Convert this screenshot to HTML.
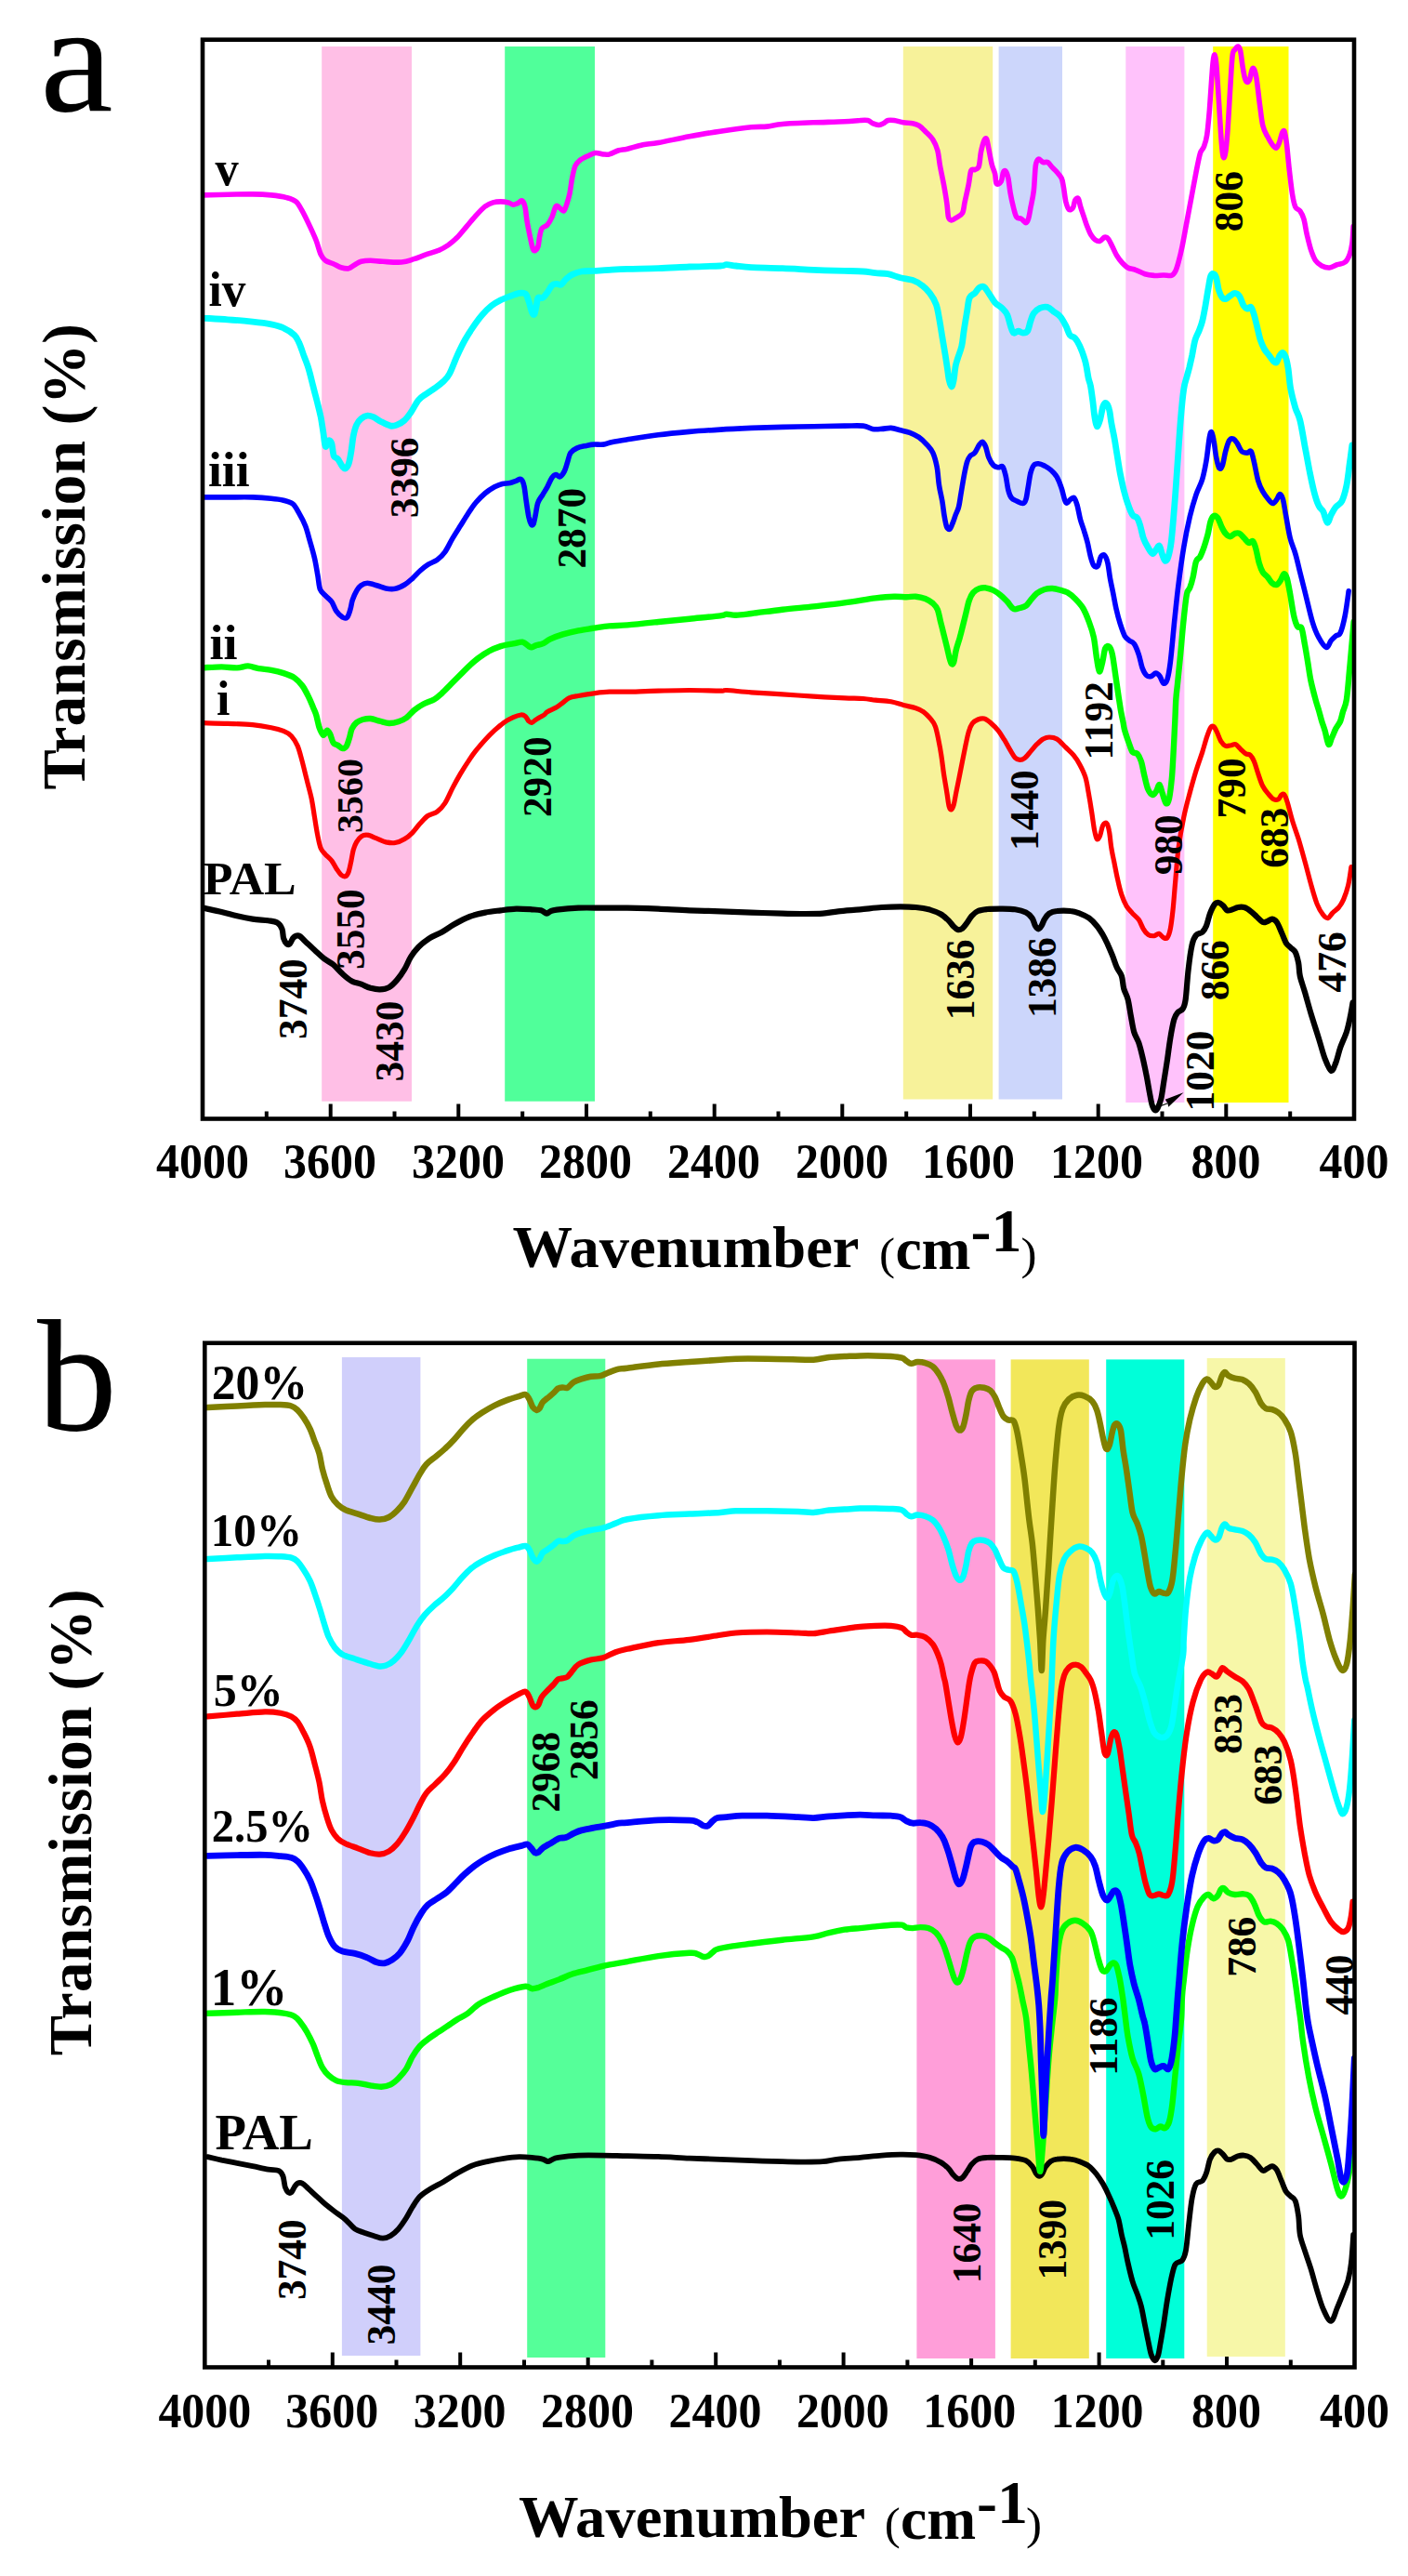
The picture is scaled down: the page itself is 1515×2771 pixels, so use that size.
<!DOCTYPE html>
<html><head><meta charset="utf-8"><title>FTIR spectra</title>
<style>html,body{margin:0;padding:0;background:#fff}svg{display:block}</style></head>
<body>
<svg width="1515" height="2771" viewBox="0 0 1515 2771" font-family='"Liberation Serif","Times New Roman",serif' font-weight="bold" fill="#000">
<rect width="1515" height="2771" fill="#fff"/>
<path d="M1388.2,1203.5V1195.5M1319.3,1203.5V1187.5M1250.5,1203.5V1195.5M1181.7,1203.5V1187.5M1112.8,1203.5V1195.5M1044.0,1203.5V1187.5M975.2,1203.5V1195.5M906.3,1203.5V1187.5M837.5,1203.5V1195.5M768.7,1203.5V1187.5M699.8,1203.5V1195.5M631.0,1203.5V1187.5M562.2,1203.5V1195.5M493.3,1203.5V1187.5M424.5,1203.5V1195.5M355.7,1203.5V1187.5M286.8,1203.5V1195.5" stroke="#000" stroke-width="4" fill="none"/>
<rect x="346.2" y="50.0" width="96.8" height="1134.7" fill="#FFBFE6"/>
<rect x="543.2" y="50.0" width="96.8" height="1134.7" fill="#50FF9A"/>
<rect x="971.8" y="50.0" width="96.4" height="1132.5" fill="#F7F29A"/>
<rect x="1074.6" y="50.0" width="68.4" height="1132.5" fill="#CCD6FB"/>
<rect x="1211.3" y="50.0" width="63.1" height="1136.0" fill="#FFC2FB"/>
<rect x="1305.2" y="50.0" width="81.3" height="1136.0" fill="#FFFF00"/>
<clipPath id="ca"><rect x="218" y="42.7" width="1239" height="1160.8"/></clipPath>
<g clip-path="url(#ca)" fill="none" stroke-linejoin="round" stroke-linecap="round">
<path d="M218.4,976.6C221.7,977.4 232.3,979.5 238.4,981.0C244.5,982.4 249.5,984.0 255.1,985.3C260.6,986.6 266.2,987.8 271.8,988.6C277.3,989.5 284.0,989.6 288.5,990.3C292.9,991.0 296.0,991.1 298.5,992.7C301.0,994.2 302.4,996.5 303.5,999.3C304.6,1002.1 304.3,1006.7 305.1,1009.3C306.0,1012.0 307.4,1014.3 308.5,1015.3C309.6,1016.4 310.7,1016.4 311.8,1015.3C312.9,1014.3 314.0,1010.8 315.2,1009.3C316.3,1007.9 317.3,1007.1 318.5,1006.7C319.7,1006.3 320.8,1006.0 322.5,1007.0C324.2,1008.0 325.8,1010.2 328.5,1012.7C331.2,1015.2 335.2,1019.0 338.5,1022.0C341.9,1025.1 345.2,1028.4 348.5,1031.0C351.9,1033.7 355.2,1034.9 358.6,1037.7C361.9,1040.5 365.2,1044.8 368.6,1047.7C371.9,1050.7 375.2,1053.6 378.6,1055.4C381.9,1057.2 385.3,1057.5 388.6,1058.7C391.9,1060.0 395.3,1061.8 398.6,1062.8C401.9,1063.7 405.3,1064.5 408.6,1064.4C412.0,1064.3 415.6,1063.8 418.6,1062.1C421.7,1060.4 424.2,1057.6 427.0,1054.4C429.8,1051.2 432.8,1046.9 435.3,1042.7C437.8,1038.5 439.5,1033.4 442.0,1029.4C444.5,1025.4 447.0,1022.0 450.3,1018.7C453.7,1015.3 457.9,1012.0 462.0,1009.3C466.2,1006.7 470.9,1005.2 475.4,1002.7C479.8,1000.2 483.7,997.1 488.7,994.3C493.7,991.5 499.9,988.1 505.4,986.0C511.0,983.9 516.6,982.7 522.1,981.6C527.7,980.5 533.2,980.0 538.8,979.3C544.4,978.6 549.9,977.8 555.5,977.6C561.1,977.5 567.7,978.0 572.2,978.3C576.6,978.6 579.5,978.6 582.2,979.3C584.9,980.0 586.5,982.5 588.2,982.6C589.9,982.8 590.4,981.0 592.2,980.3C594.0,979.6 593.9,979.2 598.9,978.6C603.9,978.0 613.9,977.0 622.3,976.6C630.6,976.3 640.2,976.6 649.0,976.6C657.8,976.6 665.1,976.5 675.0,976.6C684.9,976.8 697.3,977.2 708.4,977.6C719.5,978.1 730.6,978.9 741.8,979.3C752.9,979.7 764.0,979.9 775.1,980.3C786.3,980.7 797.4,981.2 808.5,981.6C819.6,982.0 833.0,982.4 841.9,982.6C850.8,982.9 854.7,983.0 861.9,983.0C869.2,983.0 878.6,983.1 885.3,982.6C892.0,982.2 895.3,981.0 902.0,980.3C908.7,979.6 917.6,979.0 925.4,978.3C933.1,977.6 941.5,976.5 948.7,976.0C956.0,975.5 962.6,975.3 968.8,975.3C974.9,975.3 980.2,975.4 985.4,976.0C990.7,976.5 996.0,977.4 1000.5,978.6C1004.9,979.9 1008.8,981.4 1012.1,983.3C1015.5,985.2 1018.3,987.9 1020.5,990.0C1022.7,992.1 1023.8,994.3 1025.5,996.0C1027.2,997.7 1028.8,999.5 1030.5,1000.0C1032.2,1000.4 1033.8,999.9 1035.5,998.7C1037.2,997.4 1038.8,994.9 1040.5,992.7C1042.2,990.4 1043.6,987.4 1045.5,985.3C1047.5,983.2 1049.4,981.2 1052.2,980.0C1055.0,978.7 1058.3,978.4 1062.2,978.0C1066.1,977.6 1070.6,977.6 1075.6,977.6C1080.6,977.7 1087.5,977.6 1092.3,978.3C1097.0,979.0 1100.9,980.1 1103.9,981.6C1107.0,983.2 1108.9,985.3 1110.6,987.6C1112.3,990.0 1112.8,994.0 1114.0,996.0C1115.1,997.9 1116.2,999.3 1117.3,999.3C1118.4,999.3 1119.5,997.8 1120.6,996.0C1121.7,994.2 1122.6,990.9 1124.0,988.6C1125.4,986.4 1126.8,984.1 1129.0,982.6C1131.2,981.2 1133.5,980.4 1137.3,980.0C1141.1,979.5 1147.7,979.5 1151.8,980.0C1155.9,980.4 1158.5,981.4 1161.8,982.6C1165.2,983.9 1168.8,985.4 1171.8,987.6C1174.9,989.9 1177.7,992.9 1180.2,996.0C1182.7,999.0 1184.9,1002.7 1186.9,1006.0C1188.8,1009.3 1190.2,1012.4 1191.9,1016.0C1193.5,1019.6 1195.2,1023.5 1196.9,1027.7C1198.6,1031.9 1200.2,1037.3 1201.9,1041.1C1203.6,1044.8 1205.7,1046.3 1206.9,1050.0C1208.1,1053.7 1208.1,1059.2 1209.2,1063.4C1210.3,1067.5 1212.3,1070.0 1213.6,1075.0C1214.9,1080.0 1215.8,1087.6 1216.9,1093.4C1218.0,1099.2 1218.9,1105.4 1220.2,1110.1C1221.6,1114.8 1223.8,1117.3 1225.3,1121.8C1226.8,1126.2 1227.9,1130.9 1229.3,1136.8C1230.7,1142.6 1232.3,1150.4 1233.6,1156.8C1234.9,1163.2 1235.9,1169.9 1236.9,1175.2C1237.9,1180.5 1238.7,1185.4 1239.6,1188.5C1240.6,1191.7 1241.6,1193.6 1242.6,1194.2C1243.6,1194.8 1244.5,1193.9 1245.6,1191.9C1246.7,1189.8 1248.2,1186.6 1249.3,1181.9C1250.4,1177.1 1251.2,1170.4 1252.3,1163.5C1253.4,1156.5 1254.8,1147.9 1256.0,1140.1C1257.1,1132.3 1258.1,1124.0 1259.3,1116.8C1260.5,1109.5 1262.0,1101.3 1263.3,1096.7C1264.6,1092.2 1265.4,1091.3 1267.0,1089.4C1268.5,1087.4 1271.2,1087.4 1272.7,1085.0C1274.1,1082.7 1274.7,1082.1 1275.7,1075.0C1276.7,1068.0 1277.5,1052.6 1278.7,1042.7C1279.8,1032.9 1281.3,1022.1 1282.7,1016.0C1284.1,1009.9 1285.2,1008.2 1287.0,1006.0C1288.8,1003.8 1291.9,1004.3 1293.7,1002.7C1295.5,1001.0 1296.6,999.3 1298.0,996.0C1299.4,992.7 1300.5,986.5 1302.0,982.6C1303.5,978.7 1305.5,974.6 1307.0,972.6C1308.6,970.7 1309.9,970.7 1311.4,971.0C1312.9,971.2 1314.5,972.9 1316.1,974.3C1317.6,975.7 1318.8,978.6 1320.4,979.3C1321.9,980.0 1323.5,979.2 1325.4,978.6C1327.3,978.1 1329.8,976.4 1332.1,976.0C1334.3,975.5 1336.5,975.3 1338.8,976.0C1341.0,976.6 1343.2,978.3 1345.4,980.0C1347.7,981.6 1349.9,984.0 1352.1,986.0C1354.3,988.0 1356.8,991.1 1358.8,992.0C1360.7,992.8 1362.1,991.5 1363.8,991.0C1365.5,990.4 1367.1,988.5 1368.8,988.6C1370.5,988.8 1372.1,989.6 1373.8,992.0C1375.5,994.3 1377.1,998.9 1378.8,1002.7C1380.5,1006.4 1382.1,1011.6 1383.8,1014.3C1385.5,1017.1 1387.2,1017.7 1388.8,1019.4C1390.5,1021.0 1392.4,1021.6 1393.8,1024.4C1395.2,1027.1 1396.3,1031.8 1397.2,1036.0C1398.0,1040.3 1397.7,1044.9 1398.8,1050.0C1399.9,1055.1 1401.9,1060.0 1403.8,1066.7C1405.8,1073.4 1408.0,1081.7 1410.5,1090.1C1413.0,1098.4 1416.4,1108.7 1418.9,1116.8C1421.4,1124.8 1423.3,1132.6 1425.5,1138.5C1427.8,1144.3 1430.3,1151.0 1432.2,1151.8C1434.2,1152.6 1435.6,1147.6 1437.2,1143.5C1438.9,1139.3 1440.3,1132.3 1442.2,1126.8C1444.2,1121.2 1447.1,1115.6 1448.9,1110.1C1450.7,1104.5 1451.8,1098.7 1452.9,1093.4C1454.0,1088.1 1455.1,1080.9 1455.6,1078.4" stroke="#000000" stroke-width="6.2"/>
<path d="M218.4,777.7C222.8,777.8 236.2,778.0 245.1,778.3C254.0,778.7 264.0,779.0 271.8,779.7C279.6,780.4 286.2,781.6 291.8,782.7C297.4,783.8 301.5,784.9 305.1,786.4C308.8,787.9 311.0,789.0 313.5,791.7C316.0,794.4 318.2,797.8 320.2,802.4C322.1,806.9 323.5,813.0 325.2,819.1C326.8,825.2 328.5,832.4 330.2,839.1C331.8,845.8 333.8,852.5 335.2,859.1C336.6,865.8 337.4,872.5 338.5,879.2C339.6,885.8 340.7,893.6 341.9,899.2C343.0,904.7 343.8,909.2 345.2,912.5C346.6,915.9 348.3,917.0 350.2,919.2C352.2,921.4 354.9,923.4 356.9,925.9C358.8,928.4 360.2,931.7 361.9,934.2C363.6,936.7 365.2,939.5 366.9,940.9C368.6,942.3 370.5,943.1 371.9,942.6C373.3,942.0 374.2,940.4 375.2,937.6C376.2,934.8 377.1,929.8 377.9,925.9C378.7,922.0 379.3,917.5 380.2,914.2C381.2,910.9 382.2,908.3 383.6,905.9C385.0,903.5 386.6,901.1 388.6,899.9C390.5,898.6 392.5,897.8 395.3,898.2C398.1,898.5 401.9,900.6 405.3,901.9C408.6,903.1 412.0,905.1 415.3,905.9C418.6,906.6 422.0,907.1 425.3,906.5C428.7,906.0 432.3,904.3 435.3,902.5C438.4,900.7 440.9,898.6 443.7,895.8C446.5,893.1 449.2,888.9 452.0,885.8C454.8,882.8 457.3,879.6 460.4,877.5C463.4,875.4 467.3,875.4 470.4,873.1C473.4,870.9 475.9,868.4 478.7,864.1C481.5,859.9 484.3,852.7 487.1,847.4C489.8,842.2 492.6,837.2 495.4,832.4C498.2,827.7 501.0,823.2 503.8,819.1C506.5,814.9 509.0,811.3 512.1,807.4C515.2,803.5 518.8,799.3 522.1,795.7C525.5,792.1 528.8,788.8 532.1,785.7C535.5,782.6 538.8,779.7 542.1,777.3C545.5,775.0 549.1,773.1 552.2,771.7C555.2,770.3 558.3,769.2 560.5,769.0C562.7,768.8 564.1,769.6 565.5,770.7C566.9,771.8 567.7,774.6 568.8,775.7C570.0,776.8 571.1,777.5 572.2,777.3C573.3,777.2 574.1,776.0 575.5,775.0C576.9,774.1 578.9,772.7 580.5,771.7C582.2,770.7 584.1,770.0 585.5,769.0C586.9,768.0 586.7,767.2 588.9,765.8C591.1,764.5 596.1,762.5 598.9,760.8C601.7,759.2 603.3,757.5 605.6,755.8C607.8,754.2 609.5,752.1 612.2,750.8C615.0,749.6 617.8,749.3 622.3,748.5C626.7,747.7 633.4,746.5 638.9,745.8C644.5,745.1 649.6,744.4 655.6,744.2C661.6,743.9 666.2,744.3 675.0,744.2C683.8,744.0 697.3,743.4 708.4,743.2C719.5,742.9 730.6,742.5 741.8,742.5C752.9,742.5 768.5,743.2 775.1,743.2C781.8,743.2 776.3,742.2 781.8,742.5C787.4,742.8 798.5,744.1 808.5,744.8C818.5,745.5 830.8,746.1 841.9,746.8C853.0,747.5 864.2,748.5 875.3,749.2C886.4,749.8 899.8,750.4 908.7,750.8C917.6,751.2 923.1,751.1 928.7,751.5C934.3,751.9 937.0,752.6 942.0,753.2C947.1,753.7 953.7,753.9 958.7,754.8C963.7,755.7 967.6,757.3 972.1,758.5C976.5,759.7 981.8,760.6 985.4,761.8C989.1,763.1 991.3,764.1 993.8,765.8C996.3,767.6 998.4,769.9 1000.5,772.3C1002.5,774.8 1004.6,776.8 1006.1,780.7C1007.7,784.6 1008.7,790.4 1009.8,795.7C1010.9,801.0 1011.9,806.3 1012.8,812.4C1013.8,818.5 1014.5,825.7 1015.5,832.4C1016.5,839.1 1017.9,846.6 1018.8,852.5C1019.8,858.3 1020.3,864.4 1021.2,867.5C1022.0,870.5 1023.0,871.1 1023.8,870.8C1024.7,870.5 1025.3,868.9 1026.2,865.8C1027.0,862.7 1027.8,857.5 1028.8,852.5C1029.8,847.4 1031.1,841.3 1032.2,835.8C1033.3,830.2 1034.4,824.6 1035.5,819.1C1036.6,813.5 1037.7,807.7 1038.8,802.4C1040.0,797.1 1041.0,791.4 1042.2,787.4C1043.4,783.4 1044.5,780.6 1046.2,778.3C1047.9,776.1 1050.1,774.9 1052.2,774.0C1054.3,773.1 1056.7,772.4 1058.9,773.0C1061.1,773.6 1063.1,775.2 1065.6,777.3C1068.1,779.5 1071.4,782.6 1073.9,785.7C1076.4,788.8 1078.3,792.1 1080.6,795.7C1082.8,799.3 1085.3,804.2 1087.3,807.4C1089.2,810.6 1090.6,813.4 1092.3,815.1C1093.9,816.7 1095.6,817.3 1097.3,817.4C1098.9,817.5 1100.3,817.2 1102.3,815.7C1104.2,814.2 1106.7,810.9 1108.9,808.4C1111.2,805.9 1113.4,802.9 1115.6,800.7C1117.9,798.5 1120.1,796.3 1122.3,795.0C1124.5,793.8 1126.5,793.0 1129.0,793.0C1131.5,793.0 1134.4,793.2 1137.3,795.0C1140.3,796.9 1143.8,801.2 1146.8,804.0C1149.8,806.9 1152.7,809.3 1155.2,812.4C1157.7,815.5 1159.7,818.5 1161.8,822.4C1163.9,826.3 1166.3,830.8 1167.8,835.8C1169.4,840.8 1170.1,846.3 1171.2,852.5C1172.3,858.6 1173.5,865.8 1174.5,872.5C1175.6,879.2 1176.6,887.5 1177.5,892.5C1178.5,897.5 1179.2,901.4 1180.2,902.5C1181.2,903.6 1182.4,901.7 1183.5,899.2C1184.6,896.7 1185.6,889.7 1186.9,887.5C1188.1,885.3 1189.8,884.7 1190.9,885.8C1192.0,886.9 1192.7,889.7 1193.5,894.2C1194.4,898.6 1194.9,906.7 1195.9,912.5C1196.8,918.4 1198.1,923.7 1199.2,929.2C1200.3,934.8 1201.3,940.4 1202.6,945.9C1203.8,951.5 1205.3,957.9 1206.9,962.6C1208.5,967.3 1210.0,971.0 1211.9,974.3C1213.9,977.6 1216.4,980.1 1218.6,982.6C1220.8,985.1 1223.3,986.5 1225.3,989.3C1227.2,992.1 1228.6,996.7 1230.3,999.3C1231.9,1002.0 1233.3,1004.1 1235.3,1005.3C1237.2,1006.6 1240.0,1006.8 1241.9,1006.7C1243.9,1006.5 1245.3,1004.0 1247.0,1004.3C1248.6,1004.7 1250.5,1008.0 1252.0,1008.7C1253.5,1009.4 1254.7,1010.2 1256.0,1008.7C1257.2,1007.1 1258.3,1004.2 1259.3,999.3C1260.3,994.4 1261.1,987.6 1262.0,979.3C1262.9,971.0 1263.6,960.4 1264.6,949.3C1265.6,938.1 1266.5,924.2 1268.0,912.5C1269.5,900.9 1271.6,889.2 1273.7,879.2C1275.7,869.1 1278.1,860.8 1280.3,852.5C1282.6,844.1 1284.8,836.3 1287.0,829.1C1289.2,821.9 1291.7,815.2 1293.7,809.1C1295.6,802.9 1297.2,796.8 1298.7,792.4C1300.2,787.9 1301.5,784.1 1302.7,782.4C1303.9,780.6 1304.9,780.9 1306.0,781.7C1307.1,782.5 1308.1,784.7 1309.4,787.4C1310.7,790.0 1312.2,794.9 1313.7,797.4C1315.3,799.9 1316.9,801.7 1318.7,802.4C1320.6,803.1 1322.9,802.0 1324.7,801.7C1326.5,801.4 1327.7,800.0 1329.4,800.7C1331.1,801.4 1332.9,804.0 1334.7,805.7C1336.6,807.4 1338.6,809.6 1340.4,810.7C1342.2,811.8 1343.9,811.0 1345.4,812.4C1346.9,813.8 1348.0,815.7 1349.4,819.1C1350.8,822.4 1352.2,828.0 1353.8,832.4C1355.3,836.9 1356.9,842.2 1358.8,845.8C1360.6,849.4 1362.8,851.8 1364.8,854.1C1366.7,856.5 1368.7,858.8 1370.5,859.8C1372.2,860.7 1374.1,860.6 1375.5,859.8C1376.9,859.0 1377.7,855.9 1378.8,855.1C1379.9,854.3 1381.0,853.6 1382.1,855.1C1383.3,856.6 1384.1,859.6 1385.5,864.1C1386.9,868.7 1388.5,876.1 1390.5,882.5C1392.4,888.9 1394.9,895.3 1397.2,902.5C1399.4,909.8 1401.6,917.8 1403.8,925.9C1406.1,934.0 1408.3,943.1 1410.5,950.9C1412.7,958.7 1415.0,967.1 1417.2,972.6C1419.4,978.2 1421.9,981.8 1423.9,984.3C1425.8,986.8 1427.2,988.0 1428.9,987.6C1430.5,987.3 1431.9,983.9 1433.9,982.0C1435.8,980.0 1438.6,978.4 1440.6,976.0C1442.5,973.6 1443.9,971.5 1445.6,967.6C1447.2,963.7 1449.2,958.4 1450.6,952.6C1452.0,946.8 1453.4,935.9 1453.9,932.6" stroke="#FF0000" stroke-width="5.2"/>
<path d="M216.7,718.4C220.3,718.3 232.0,717.4 238.4,717.4C244.8,717.4 250.3,718.6 255.1,718.4C259.8,718.3 262.9,716.3 266.8,716.4C270.6,716.6 274.3,718.4 278.4,719.1C282.6,719.8 287.3,720.0 291.8,720.8C296.2,721.6 301.0,722.7 305.1,724.1C309.3,725.5 313.5,726.9 316.8,729.1C320.2,731.4 322.7,734.1 325.2,737.5C327.7,740.8 329.9,745.3 331.8,749.2C333.8,753.1 335.5,757.5 336.9,760.8C338.2,764.1 339.1,765.4 340.2,769.0C341.3,772.6 342.3,778.7 343.5,782.4C344.8,786.0 346.5,790.1 347.9,790.7C349.3,791.3 350.7,785.9 351.9,785.7C353.1,785.5 354.1,787.5 355.2,789.7C356.3,791.9 357.2,797.0 358.6,799.0C359.9,801.0 361.9,800.7 363.6,801.7C365.2,802.7 367.0,804.9 368.6,805.1C370.1,805.2 371.7,804.2 372.9,802.4C374.1,800.5 375.0,797.1 375.9,794.0C376.9,791.0 377.3,786.8 378.6,784.0C379.9,781.2 381.6,779.0 383.6,777.3C385.5,775.7 387.8,774.7 390.3,774.0C392.8,773.3 395.5,772.7 398.6,773.0C401.7,773.3 405.3,774.8 408.6,775.7C412.0,776.5 415.3,777.9 418.6,778.0C422.0,778.1 425.6,777.3 428.7,776.3C431.7,775.4 434.2,774.4 437.0,772.3C439.8,770.3 442.3,766.7 445.3,764.2C448.4,761.7 451.7,759.5 455.4,757.5C459.0,755.6 463.7,754.4 467.0,752.5C470.4,750.5 472.3,748.6 475.4,745.8C478.4,743.0 482.1,739.1 485.4,735.8C488.7,732.5 492.1,729.1 495.4,725.8C498.8,722.5 502.1,718.8 505.4,715.8C508.8,712.7 512.1,709.9 515.4,707.4C518.8,704.9 521.6,702.8 525.5,700.8C529.3,698.7 534.4,696.5 538.8,695.1C543.3,693.7 548.3,693.1 552.2,692.4C556.1,691.7 559.4,690.3 562.2,690.7C565.0,691.2 567.2,694.1 568.8,695.1C570.5,696.0 570.8,696.6 572.2,696.4C573.6,696.3 575.2,694.7 577.2,694.1C579.1,693.4 581.4,693.5 583.9,692.4C586.4,691.3 588.6,689.1 592.2,687.4C595.8,685.7 600.6,683.9 605.6,682.4C610.6,680.9 616.7,679.5 622.3,678.4C627.8,677.3 633.4,676.6 638.9,675.7C644.5,674.9 649.6,673.9 655.6,673.4C661.6,672.8 666.2,673.1 675.0,672.4C683.8,671.7 697.3,670.2 708.4,669.0C719.5,667.9 730.6,666.8 741.8,665.7C752.9,664.6 768.5,663.2 775.1,662.4C781.8,661.5 779.0,660.8 781.8,660.7C784.6,660.6 787.4,661.8 791.8,661.7C796.3,661.6 800.2,661.0 808.5,660.0C816.9,659.0 830.8,657.0 841.9,655.7C853.0,654.4 864.2,653.6 875.3,652.4C886.4,651.1 897.5,649.9 908.7,648.3C919.8,646.8 933.1,644.5 942.0,643.3C950.9,642.2 956.5,641.8 962.1,641.7C967.6,641.5 971.5,642.3 975.4,642.3C979.3,642.3 982.1,641.4 985.4,641.7C988.8,642.0 992.4,642.8 995.5,644.0C998.5,645.2 1001.6,647.1 1003.8,649.0C1006.0,651.0 1007.4,652.4 1008.8,655.7C1010.2,659.0 1011.0,664.6 1012.1,669.0C1013.3,673.5 1014.4,677.9 1015.5,682.4C1016.6,686.8 1017.8,691.6 1018.8,695.8C1019.8,699.9 1020.7,704.4 1021.5,707.4C1022.3,710.5 1023.0,713.3 1023.8,714.1C1024.6,714.9 1025.3,714.9 1026.2,712.4C1027.0,709.9 1027.7,703.5 1028.8,699.1C1029.9,694.6 1031.6,690.2 1032.8,685.7C1034.1,681.3 1035.1,676.8 1036.2,672.4C1037.3,667.9 1038.4,663.5 1039.5,659.0C1040.6,654.6 1041.6,649.3 1042.9,645.7C1044.1,642.1 1045.4,639.4 1047.2,637.3C1049.0,635.2 1051.6,633.8 1053.9,633.0C1056.1,632.2 1058.0,632.0 1060.5,632.3C1063.1,632.7 1066.1,633.6 1068.9,635.0C1071.7,636.4 1074.7,638.6 1077.2,640.7C1079.7,642.7 1081.7,645.0 1083.9,647.3C1086.1,649.7 1088.4,653.9 1090.6,655.0C1092.8,656.1 1095.0,654.6 1097.3,654.0C1099.5,653.5 1102.0,653.1 1103.9,651.7C1105.9,650.3 1107.0,647.9 1108.9,645.7C1110.9,643.5 1113.1,640.3 1115.6,638.3C1118.1,636.4 1121.2,634.9 1124.0,634.0C1126.8,633.1 1129.5,632.9 1132.3,633.0C1135.1,633.1 1138.0,633.9 1140.7,634.7C1143.4,635.4 1145.8,635.8 1148.5,637.3C1151.2,638.9 1154.0,641.2 1156.8,644.0C1159.6,646.8 1162.7,649.9 1165.2,654.0C1167.7,658.2 1169.9,663.8 1171.8,669.0C1173.8,674.3 1175.5,679.1 1176.9,685.7C1178.2,692.4 1179.2,703.0 1180.2,709.1C1181.2,715.2 1181.9,721.9 1182.9,722.5C1183.9,723.0 1185.1,716.6 1186.2,712.4C1187.3,708.3 1188.0,700.2 1189.2,697.4C1190.4,694.6 1192.3,694.6 1193.5,695.8C1194.8,696.9 1195.8,699.1 1196.9,704.1C1198.0,709.1 1199.1,718.3 1200.2,725.8C1201.3,733.3 1202.6,742.5 1203.6,749.2C1204.6,755.8 1205.4,761.2 1206.2,765.8C1207.1,770.5 1207.9,774.0 1208.6,777.3C1209.2,780.7 1209.2,782.1 1210.2,785.7C1211.2,789.3 1213.2,795.1 1214.6,799.0C1216.0,802.9 1217.1,807.1 1218.6,809.1C1220.1,811.0 1222.0,809.1 1223.6,810.7C1225.1,812.4 1226.6,815.2 1227.9,819.1C1229.2,823.0 1230.0,829.1 1231.3,834.1C1232.5,839.1 1233.8,845.6 1235.3,849.1C1236.8,852.6 1238.8,854.8 1240.3,855.1C1241.8,855.4 1243.1,852.6 1244.3,850.8C1245.5,848.9 1246.5,843.6 1247.6,844.1C1248.7,844.7 1249.8,850.8 1251.0,854.1C1252.1,857.5 1253.5,863.3 1254.6,864.1C1255.8,865.0 1256.9,863.9 1258.0,859.1C1259.0,854.4 1260.1,845.2 1261.0,835.8C1261.8,826.3 1262.4,812.4 1263.0,802.4C1263.5,792.4 1263.9,784.0 1264.3,775.7C1264.7,767.4 1264.9,759.1 1265.3,752.5C1265.8,745.9 1266.1,744.2 1267.0,735.8C1267.8,727.5 1269.2,714.1 1270.3,702.4C1271.4,690.7 1272.5,676.3 1273.7,665.7C1274.8,655.1 1275.9,644.6 1277.0,639.0C1278.1,633.4 1279.2,635.4 1280.3,632.3C1281.4,629.3 1282.6,625.4 1283.7,620.6C1284.8,615.9 1285.7,607.6 1287.0,604.0C1288.3,600.3 1290.0,601.4 1291.3,598.9C1292.7,596.4 1294.0,592.8 1295.4,588.9C1296.7,585.0 1298.1,580.3 1299.4,575.6C1300.6,570.9 1301.6,564.0 1302.7,560.6C1303.8,557.1 1304.8,555.4 1306.0,554.9C1307.3,554.3 1308.9,555.2 1310.4,557.2C1311.8,559.3 1313.3,564.5 1314.7,567.2C1316.1,570.0 1317.2,572.2 1318.7,573.9C1320.2,575.6 1322.1,577.2 1323.7,577.2C1325.4,577.2 1327.1,574.5 1328.7,573.9C1330.4,573.4 1332.1,573.1 1333.7,573.9C1335.4,574.7 1337.1,577.2 1338.8,578.9C1340.4,580.6 1342.2,583.4 1343.8,583.9C1345.3,584.5 1346.8,581.1 1348.1,582.3C1349.4,583.4 1350.3,586.7 1351.4,590.6C1352.5,594.5 1353.5,601.4 1354.8,605.6C1356.0,609.8 1357.3,613.1 1358.8,615.6C1360.3,618.1 1362.1,618.7 1363.8,620.6C1365.5,622.6 1367.1,625.9 1368.8,627.3C1370.5,628.7 1372.2,629.5 1373.8,629.0C1375.4,628.4 1376.9,625.9 1378.1,624.0C1379.4,622.0 1380.4,617.6 1381.5,617.3C1382.6,617.0 1383.7,618.7 1384.8,622.3C1385.9,625.9 1386.9,632.3 1388.2,639.0C1389.4,645.7 1390.8,656.5 1392.2,662.4C1393.5,668.2 1394.8,671.8 1396.2,674.1C1397.6,676.3 1399.2,672.7 1400.5,675.7C1401.8,678.8 1402.7,686.3 1403.8,692.4C1405.0,698.5 1406.1,705.8 1407.2,712.4C1408.3,719.1 1409.1,725.8 1410.5,732.5C1411.9,739.1 1414.0,746.9 1415.5,752.5C1417.0,758.1 1418.4,762.0 1419.5,765.8C1420.6,769.7 1421.2,772.4 1422.2,775.7C1423.2,779.0 1424.3,781.5 1425.5,785.7C1426.8,789.9 1428.3,799.3 1429.5,800.7C1430.8,802.1 1431.6,796.8 1432.9,794.0C1434.2,791.3 1435.7,787.1 1437.2,784.0C1438.8,781.0 1441.0,778.7 1442.2,775.7C1443.5,772.6 1443.8,769.7 1444.9,765.8C1446.0,762.0 1447.7,760.3 1448.9,752.5C1450.1,744.7 1451.2,729.7 1452.2,719.1C1453.2,708.5 1454.2,697.4 1454.9,689.1C1455.6,680.7 1456.3,672.4 1456.6,669.0" stroke="#00FF00" stroke-width="6.4"/>
<path d="M218.4,534.9C222.8,534.9 236.2,534.9 245.1,534.9C254.0,534.9 264.0,534.6 271.8,534.9C279.6,535.1 286.2,535.6 291.8,536.2C297.4,536.7 301.2,537.2 305.1,538.2C309.0,539.2 312.4,539.9 315.2,542.2C317.9,544.5 319.6,548.3 321.8,552.2C324.1,556.1 326.6,560.6 328.5,565.6C330.5,570.6 331.8,576.4 333.5,582.3C335.2,588.1 337.1,594.5 338.5,600.6C339.9,606.7 340.9,613.4 341.9,619.0C342.9,624.5 343.1,630.4 344.5,634.0C345.9,637.6 348.1,638.4 350.2,640.7C352.3,642.9 354.9,644.6 356.9,647.3C358.8,650.1 359.9,654.6 361.9,657.4C363.8,660.1 366.6,662.9 368.6,664.0C370.5,665.2 372.2,665.4 373.6,664.0C375.0,662.6 376.0,658.8 376.9,655.7C377.9,652.6 378.1,649.0 379.2,645.7C380.4,642.3 382.0,638.3 383.6,635.7C385.1,633.0 386.6,631.0 388.6,629.7C390.5,628.3 392.5,627.3 395.3,627.3C398.1,627.3 401.9,628.7 405.3,629.7C408.6,630.6 412.0,632.4 415.3,633.0C418.6,633.6 422.0,634.0 425.3,633.3C428.7,632.7 432.3,630.8 435.3,629.0C438.4,627.2 440.9,624.8 443.7,622.3C446.5,619.8 449.2,616.5 452.0,614.0C454.8,611.5 457.3,609.2 460.4,607.3C463.4,605.3 467.3,604.5 470.4,602.3C473.4,600.1 475.9,597.8 478.7,593.9C481.5,590.0 484.3,583.6 487.1,578.9C489.8,574.2 492.6,570.0 495.4,565.6C498.2,561.1 501.0,556.4 503.8,552.2C506.5,548.0 509.0,544.1 512.1,540.5C515.2,536.9 518.8,533.3 522.1,530.5C525.5,527.7 529.1,525.5 532.1,523.8C535.2,522.2 537.7,521.2 540.5,520.5C543.3,519.8 546.3,520.1 548.8,519.5C551.3,518.9 553.5,517.8 555.5,517.2C557.4,516.5 559.1,514.7 560.5,515.5C561.9,516.3 562.9,518.3 563.8,522.2C564.8,526.1 565.3,533.3 566.2,538.9C567.0,544.4 568.0,551.4 568.8,555.6C569.7,559.7 570.7,562.5 571.5,563.9C572.4,565.3 573.1,565.6 573.9,563.9C574.6,562.2 575.4,557.8 576.2,553.9C577.0,550.0 577.6,544.1 578.9,540.5C580.1,536.9 582.2,535.0 583.9,532.2C585.5,529.4 587.2,526.9 588.9,523.8C590.5,520.8 592.3,516.1 593.9,513.8C595.4,511.6 596.8,510.7 598.2,510.5C599.6,510.3 600.7,513.4 602.2,512.8C603.7,512.3 605.8,509.8 607.2,507.1C608.6,504.5 609.5,500.5 610.6,497.1C611.7,493.8 612.2,489.6 613.9,487.1C615.6,484.6 617.8,483.4 620.6,482.1C623.4,480.8 627.5,480.1 630.6,479.4C633.7,478.8 635.9,478.3 638.9,478.1C642.0,477.9 645.6,478.6 649.0,478.1C652.3,477.7 654.6,476.3 659.0,475.4C663.3,474.5 666.8,474.0 675.0,472.8C683.2,471.5 697.3,469.2 708.4,467.8C719.5,466.4 730.6,465.4 741.8,464.4C752.9,463.5 764.0,462.8 775.1,462.1C786.3,461.4 797.4,460.9 808.5,460.4C819.6,460.0 830.8,459.7 841.9,459.4C853.0,459.1 864.2,459.0 875.3,458.7C886.4,458.5 899.8,458.2 908.7,458.1C917.6,458.0 923.7,457.5 928.7,458.1C933.7,458.6 935.4,460.9 938.7,461.4C942.0,462.0 945.4,461.6 948.7,461.4C952.1,461.3 955.4,460.2 958.7,460.4C962.1,460.6 965.4,461.9 968.8,462.8C972.1,463.6 975.4,464.1 978.8,465.4C982.1,466.7 985.7,468.3 988.8,470.4C991.8,472.5 994.6,475.3 997.1,478.1C999.6,480.9 1002.0,483.1 1003.8,487.1C1005.6,491.1 1007.0,496.3 1008.1,502.1C1009.3,508.0 1009.5,516.1 1010.5,522.2C1011.4,528.3 1012.9,533.3 1013.8,538.9C1014.8,544.4 1015.3,550.8 1016.2,555.6C1017.0,560.3 1017.8,565.0 1018.8,567.2C1019.8,569.5 1021.0,569.8 1022.2,568.9C1023.3,568.0 1024.5,564.1 1025.5,561.6C1026.5,559.1 1027.2,556.6 1028.2,553.9C1029.2,551.2 1030.6,549.2 1031.5,545.5C1032.5,541.9 1032.9,537.7 1033.8,532.2C1034.8,526.6 1036.1,518.0 1037.2,512.2C1038.3,506.3 1039.4,500.8 1040.5,497.1C1041.6,493.5 1042.5,492.1 1043.9,490.5C1045.2,488.8 1047.2,489.2 1048.9,487.1C1050.5,485.1 1052.5,480.1 1053.9,478.1C1055.3,476.2 1056.1,475.0 1057.2,475.4C1058.3,475.8 1059.4,477.7 1060.5,480.4C1061.7,483.2 1062.5,488.8 1063.9,492.1C1065.3,495.5 1067.2,498.7 1068.9,500.5C1070.6,502.3 1072.2,502.5 1073.9,502.8C1075.6,503.1 1077.5,500.6 1078.9,502.1C1080.3,503.7 1081.2,508.0 1082.2,512.2C1083.2,516.3 1083.9,523.3 1084.9,527.2C1085.9,531.1 1086.8,533.6 1088.3,535.5C1089.8,537.5 1091.9,537.9 1093.9,538.9C1096.0,539.9 1098.9,541.8 1100.6,541.5C1102.3,541.3 1103.0,540.1 1103.9,537.2C1104.9,534.2 1105.4,528.6 1106.3,523.8C1107.1,519.1 1107.9,512.7 1108.9,508.8C1110.0,504.9 1110.9,502.1 1112.3,500.5C1113.7,498.8 1115.3,498.7 1117.3,498.8C1119.2,498.9 1121.7,500.0 1124.0,501.1C1126.2,502.3 1128.4,503.5 1130.6,505.5C1132.9,507.5 1135.4,509.8 1137.3,513.2C1139.3,516.5 1140.7,520.9 1142.3,525.5C1143.9,530.1 1145.2,538.6 1146.8,540.5C1148.4,542.5 1150.3,538.0 1151.8,537.2C1153.3,536.4 1154.6,534.4 1155.8,535.5C1157.0,536.6 1158.0,540.0 1159.2,543.9C1160.3,547.8 1161.2,554.2 1162.5,558.9C1163.8,563.6 1165.6,568.1 1166.8,572.2C1168.1,576.4 1169.1,579.5 1170.2,583.9C1171.3,588.4 1172.4,594.9 1173.5,598.9C1174.6,603.0 1175.6,606.6 1176.9,608.3C1178.1,610.0 1179.9,610.5 1181.2,609.0C1182.5,607.4 1183.3,600.9 1184.5,598.9C1185.8,597.0 1187.3,596.2 1188.5,597.3C1189.8,598.4 1190.9,601.4 1191.9,605.6C1192.9,609.8 1193.5,616.7 1194.5,622.3C1195.5,627.9 1196.8,633.4 1197.9,639.0C1199.0,644.6 1200.0,650.4 1201.2,655.7C1202.4,661.0 1203.7,666.0 1205.2,670.7C1206.7,675.4 1208.6,681.0 1210.2,684.1C1211.9,687.1 1213.6,687.7 1215.2,689.1C1216.9,690.5 1218.6,689.9 1220.2,692.4C1221.9,694.9 1223.8,699.6 1225.3,704.1C1226.8,708.5 1227.9,715.4 1229.3,719.1C1230.7,722.8 1232.0,725.1 1233.6,726.5C1235.2,727.9 1236.9,727.9 1238.6,727.5C1240.3,727.1 1242.1,724.1 1243.6,724.1C1245.2,724.1 1246.6,725.6 1248.0,727.5C1249.3,729.3 1250.6,734.6 1252.0,735.1C1253.3,735.7 1254.7,734.6 1256.0,730.8C1257.2,727.0 1258.0,722.7 1259.3,712.4C1260.6,702.1 1262.2,683.0 1263.6,669.0C1265.1,655.1 1266.3,642.3 1268.0,629.0C1269.7,615.6 1271.6,601.2 1273.7,588.9C1275.7,576.7 1278.1,565.0 1280.3,555.6C1282.6,546.1 1284.8,538.9 1287.0,532.2C1289.2,525.5 1291.9,521.6 1293.7,515.5C1295.5,509.4 1296.7,503.0 1298.0,495.5C1299.3,488.0 1300.4,475.5 1301.4,470.4C1302.3,465.3 1302.9,464.2 1303.7,464.8C1304.5,465.3 1305.2,469.2 1306.0,473.8C1306.9,478.3 1307.7,487.1 1308.7,492.1C1309.7,497.1 1310.9,502.4 1312.0,503.8C1313.2,505.2 1314.3,503.5 1315.4,500.5C1316.5,497.4 1317.5,489.9 1318.7,485.5C1319.9,481.0 1321.3,476.0 1322.7,473.8C1324.1,471.5 1325.6,471.5 1327.1,472.1C1328.5,472.7 1329.9,474.9 1331.4,477.1C1332.9,479.3 1334.3,483.8 1336.1,485.5C1337.9,487.1 1340.4,487.1 1342.1,487.1C1343.8,487.1 1344.9,483.8 1346.1,485.5C1347.3,487.1 1348.2,491.8 1349.4,497.1C1350.7,502.4 1352.2,511.9 1353.8,517.2C1355.3,522.4 1356.9,525.5 1358.8,528.8C1360.6,532.2 1363.0,535.1 1364.8,537.2C1366.6,539.3 1368.0,541.5 1369.5,541.5C1371.0,541.5 1372.5,538.9 1373.8,537.2C1375.1,535.5 1376.0,531.5 1377.1,531.5C1378.3,531.5 1379.4,533.2 1380.5,537.2C1381.6,541.2 1382.5,548.6 1383.8,555.6C1385.1,562.5 1386.5,572.2 1388.2,578.9C1389.8,585.6 1392.0,589.5 1393.8,595.6C1395.6,601.7 1396.9,607.8 1398.8,615.6C1400.8,623.4 1403.3,633.4 1405.5,642.3C1407.7,651.2 1410.0,661.8 1412.2,669.0C1414.4,676.3 1416.4,681.2 1418.9,685.7C1421.4,690.3 1425.0,695.9 1427.2,696.4C1429.4,697.0 1430.5,691.1 1432.2,689.1C1433.9,687.0 1435.6,685.5 1437.2,684.1C1438.9,682.7 1440.6,684.3 1442.2,680.7C1443.9,677.1 1445.7,669.9 1447.2,662.4C1448.7,654.9 1450.6,640.1 1451.2,635.7" stroke="#0000FF" stroke-width="5.6"/>
<path d="M218.4,342.1C222.8,342.4 236.2,343.1 245.1,343.8C254.0,344.4 264.0,345.3 271.8,346.1C279.6,346.9 286.2,347.7 291.8,348.8C297.4,349.9 301.0,350.8 305.1,352.8C309.3,354.7 314.0,357.8 316.8,360.5C319.6,363.1 320.2,365.2 321.8,368.8C323.5,372.4 325.3,378.0 326.8,382.2C328.4,386.3 330.1,390.5 331.2,393.8C332.3,397.1 332.6,398.4 333.5,402.0C334.5,405.6 335.6,410.3 336.9,415.4C338.1,420.4 339.8,426.5 341.2,432.0C342.6,437.6 344.1,443.2 345.2,448.7C346.3,454.3 347.0,460.1 347.9,465.4C348.7,470.7 349.3,479.1 350.2,480.4C351.2,481.8 352.4,474.3 353.5,473.8C354.7,473.2 355.9,474.3 356.9,477.1C357.8,479.9 358.1,487.7 359.2,490.5C360.3,493.2 362.0,491.8 363.6,493.8C365.1,495.7 367.2,500.5 368.6,502.1C370.0,503.8 370.8,504.4 371.9,503.8C373.0,503.3 374.2,501.9 375.2,498.8C376.2,495.7 377.1,490.5 377.9,485.5C378.7,480.4 379.3,473.5 380.2,468.8C381.2,464.0 382.2,460.1 383.6,457.1C385.0,454.0 386.6,452.1 388.6,450.4C390.5,448.7 393.0,447.3 395.3,447.1C397.5,446.8 399.4,447.6 401.9,448.7C404.4,449.8 407.2,452.2 410.3,453.7C413.4,455.3 417.5,457.5 420.3,458.1C423.1,458.6 424.5,458.1 427.0,457.1C429.5,456.1 432.8,454.3 435.3,452.1C437.8,449.8 439.5,447.3 442.0,443.7C444.5,440.1 447.6,433.7 450.3,430.4C453.1,427.0 455.6,425.9 458.7,423.7C461.8,421.5 465.6,419.2 468.7,417.0C471.8,414.8 474.5,412.8 477.1,410.3C479.6,407.8 481.2,406.7 483.7,402.0C486.2,397.3 489.3,388.2 492.1,382.2C494.9,376.1 497.6,370.5 500.4,365.5C503.2,360.5 505.7,356.6 508.8,352.1C511.8,347.7 515.4,342.7 518.8,338.8C522.1,334.9 525.5,331.4 528.8,328.8C532.1,326.1 535.5,324.4 538.8,322.7C542.1,321.1 545.5,320.0 548.8,318.7C552.2,317.5 556.1,315.8 558.8,315.4C561.6,315.0 563.8,314.7 565.5,316.1C567.2,317.5 567.7,320.5 568.8,323.7C570.0,327.0 571.2,333.0 572.2,335.4C573.2,337.8 574.0,339.2 574.9,338.1C575.7,337.0 576.5,331.7 577.2,328.8C577.9,325.8 577.8,321.8 578.9,320.4C580.0,319.0 582.2,321.4 583.9,320.4C585.5,319.5 587.2,317.0 588.9,314.7C590.5,312.5 592.2,308.6 593.9,307.1C595.6,305.5 597.2,305.6 598.9,305.4C600.6,305.2 602.2,306.9 603.9,306.1C605.6,305.2 607.0,302.2 608.9,300.4C610.9,298.6 612.8,296.8 615.6,295.4C618.4,294.0 621.7,292.7 625.6,292.0C629.5,291.4 633.9,291.6 638.9,291.4C644.0,291.1 649.6,290.7 655.6,290.4C661.6,290.0 666.2,289.6 675.0,289.4C683.8,289.1 697.3,289.1 708.4,288.7C719.5,288.3 730.6,287.5 741.8,287.0C752.9,286.6 768.5,286.4 775.1,286.0C781.8,285.6 779.0,284.7 781.8,284.7C784.6,284.7 787.4,285.5 791.8,286.0C796.3,286.5 800.2,287.2 808.5,287.7C816.9,288.1 830.8,288.2 841.9,288.7C853.0,289.1 864.2,289.9 875.3,290.4C886.4,290.8 899.8,291.1 908.7,291.4C917.6,291.6 923.1,291.6 928.7,292.0C934.3,292.4 937.6,293.3 942.0,293.7C946.5,294.1 950.9,293.9 955.4,294.7C959.8,295.5 964.3,297.6 968.8,298.7C973.2,299.8 978.2,300.0 982.1,301.4C986.0,302.8 989.1,304.7 992.1,307.1C995.2,309.4 998.0,312.1 1000.5,315.4C1003.0,318.7 1005.5,322.6 1007.1,327.1C1008.8,331.5 1009.4,336.3 1010.5,342.1C1011.6,347.9 1012.7,355.5 1013.8,362.1C1014.9,368.8 1016.2,376.3 1017.2,382.2C1018.1,388.0 1018.8,392.8 1019.5,397.2C1020.2,401.6 1020.4,405.5 1021.2,408.7C1021.9,411.8 1023.0,416.0 1023.8,416.0C1024.7,416.0 1025.4,412.4 1026.2,408.7C1026.9,405.0 1027.4,397.7 1028.2,393.8C1028.9,390.0 1029.4,389.1 1030.5,385.5C1031.6,381.9 1033.7,377.2 1034.8,372.1C1036.0,367.1 1036.2,361.6 1037.2,355.5C1038.1,349.3 1039.5,341.3 1040.5,335.4C1041.5,329.6 1041.8,323.7 1043.2,320.4C1044.6,317.1 1047.1,317.2 1048.9,315.4C1050.6,313.6 1052.2,310.5 1053.9,309.4C1055.5,308.3 1057.2,307.7 1058.9,308.7C1060.5,309.7 1061.9,312.6 1063.9,315.4C1065.8,318.2 1068.1,322.6 1070.6,325.4C1073.1,328.2 1076.7,329.9 1078.9,332.1C1081.1,334.3 1082.5,335.7 1083.9,338.8C1085.3,341.8 1086.1,347.2 1087.3,350.4C1088.4,353.7 1089.2,357.2 1090.6,358.1C1092.0,359.1 1093.9,356.1 1095.6,356.1C1097.3,356.1 1098.9,358.1 1100.6,358.1C1102.3,358.1 1104.2,358.2 1105.6,356.1C1107.0,354.0 1107.8,348.6 1108.9,345.4C1110.1,342.3 1110.6,339.4 1112.3,337.1C1114.0,334.8 1116.5,332.5 1119.0,331.4C1121.5,330.3 1124.8,329.8 1127.3,330.4C1129.8,331.1 1131.8,333.8 1134.0,335.4C1136.2,337.1 1138.5,337.9 1140.7,340.4C1142.8,342.9 1145.1,347.1 1146.8,350.4C1148.6,353.8 1149.5,358.2 1151.2,360.5C1152.8,362.7 1155.0,361.9 1156.8,363.8C1158.6,365.7 1160.2,368.5 1161.8,372.1C1163.5,375.8 1165.6,381.6 1166.8,385.5C1168.1,389.4 1168.5,391.9 1169.2,395.5C1169.9,399.1 1170.5,403.7 1171.2,407.0C1171.9,410.3 1172.7,411.2 1173.5,415.4C1174.3,419.5 1175.1,426.5 1175.9,432.0C1176.6,437.6 1177.1,444.3 1177.9,448.7C1178.6,453.2 1179.2,458.2 1180.2,458.7C1181.1,459.3 1182.4,455.7 1183.5,452.1C1184.6,448.5 1185.8,440.1 1186.9,437.0C1188.0,434.0 1189.1,433.2 1190.2,433.7C1191.3,434.3 1192.6,436.8 1193.5,440.4C1194.5,444.0 1194.9,450.1 1195.9,455.4C1196.8,460.7 1198.2,466.5 1199.2,472.1C1200.2,477.7 1200.9,482.7 1201.9,488.8C1202.9,494.9 1204.0,502.4 1205.2,508.8C1206.5,515.2 1207.8,521.6 1209.2,527.2C1210.6,532.7 1212.0,537.7 1213.6,542.2C1215.1,546.6 1216.9,551.4 1218.6,553.9C1220.2,556.4 1222.2,555.3 1223.6,557.2C1225.0,559.2 1225.8,561.9 1226.9,565.6C1228.0,569.2 1228.9,575.0 1230.3,578.9C1231.7,582.8 1233.6,586.2 1235.3,588.9C1236.9,591.7 1238.8,595.3 1240.3,595.6C1241.8,595.9 1243.1,592.0 1244.3,590.6C1245.5,589.2 1246.6,586.4 1247.6,587.3C1248.6,588.1 1249.3,592.9 1250.3,595.6C1251.3,598.3 1252.5,602.7 1253.6,603.3C1254.7,603.8 1255.9,602.5 1257.0,598.9C1258.1,595.4 1259.2,591.2 1260.3,582.3C1261.4,573.4 1262.5,559.4 1263.6,545.5C1264.8,531.6 1265.9,514.4 1267.0,498.8C1268.1,483.2 1269.2,465.4 1270.3,452.1C1271.4,438.7 1272.5,426.5 1273.7,418.7C1274.8,410.9 1276.0,409.2 1277.0,405.3C1278.0,401.5 1278.7,399.4 1279.7,395.5C1280.6,391.6 1281.6,387.2 1282.7,382.2C1283.7,377.2 1284.7,369.9 1286.0,365.5C1287.3,361.0 1289.1,358.8 1290.3,355.5C1291.6,352.1 1292.6,349.9 1293.7,345.4C1294.8,341.0 1295.9,334.9 1297.0,328.8C1298.1,322.6 1299.4,314.0 1300.4,308.7C1301.3,303.4 1301.8,299.4 1302.7,297.0C1303.6,294.7 1305.0,294.4 1306.0,294.7C1307.0,295.0 1307.8,295.8 1308.7,298.7C1309.6,301.6 1310.3,308.4 1311.4,312.1C1312.5,315.7 1314.0,318.8 1315.4,320.4C1316.7,322.0 1318.0,321.8 1319.4,321.4C1320.8,321.0 1322.2,319.1 1323.7,318.1C1325.3,317.1 1327.1,315.3 1328.7,315.4C1330.4,315.5 1332.2,316.5 1333.7,318.7C1335.3,321.0 1336.7,326.5 1338.1,328.8C1339.5,331.0 1340.8,331.8 1342.1,332.1C1343.4,332.4 1344.9,329.3 1346.1,330.4C1347.3,331.5 1348.3,335.1 1349.4,338.8C1350.5,342.4 1351.7,347.7 1352.8,352.1C1353.9,356.6 1354.8,361.6 1356.1,365.5C1357.4,369.4 1358.9,372.7 1360.4,375.5C1362.0,378.3 1363.8,379.9 1365.5,382.2C1367.1,384.4 1369.1,387.6 1370.5,388.8C1371.9,390.1 1372.7,390.6 1373.8,389.5C1374.9,388.4 1376.0,383.8 1377.1,382.2C1378.3,380.5 1379.4,378.9 1380.5,379.5C1381.6,380.0 1382.9,382.5 1383.8,385.5C1384.8,388.4 1385.3,391.6 1386.2,397.2C1387.0,402.7 1387.5,411.8 1388.8,418.7C1390.1,425.6 1392.2,433.2 1393.8,438.7C1395.5,444.3 1397.2,445.4 1398.8,452.1C1400.5,458.7 1402.2,469.9 1403.8,478.8C1405.5,487.7 1407.2,497.1 1408.8,505.5C1410.5,513.8 1412.2,522.4 1413.9,528.8C1415.5,535.2 1417.2,540.3 1418.9,543.9C1420.5,547.5 1422.3,547.5 1423.9,550.5C1425.4,553.6 1426.8,561.7 1428.2,562.2C1429.6,562.8 1430.7,556.7 1432.2,553.9C1433.7,551.1 1435.3,548.0 1437.2,545.5C1439.2,543.0 1442.0,542.8 1443.9,538.9C1445.8,535.0 1447.5,528.8 1448.9,522.2C1450.3,515.5 1451.2,506.0 1452.2,498.8C1453.2,491.6 1454.5,482.1 1454.9,478.8" stroke="#00FFFF" stroke-width="6.8"/>
<path d="M218.4,209.9C222.8,209.8 236.2,209.4 245.1,209.2C254.0,209.1 264.0,208.8 271.8,208.9C279.6,209.0 285.7,209.3 291.8,209.9C297.9,210.5 304.0,211.4 308.5,212.6C312.9,213.8 315.7,214.5 318.5,216.9C321.3,219.3 322.7,222.5 325.2,226.9C327.7,231.4 331.0,238.3 333.5,243.6C336.0,248.9 338.2,253.6 340.2,258.7C342.1,263.7 343.5,270.1 345.2,273.7C346.9,277.3 348.0,278.7 350.2,280.3C352.4,282.0 355.8,282.5 358.6,283.7C361.3,284.9 364.1,286.9 366.9,287.7C369.7,288.5 372.7,289.2 375.2,288.7C377.7,288.2 379.7,285.9 381.9,284.7C384.1,283.5 385.8,282.1 388.6,281.3C391.4,280.6 394.7,280.3 398.6,280.3C402.5,280.3 406.4,281.1 412.0,281.3C417.5,281.6 426.4,282.5 432.0,282.0C437.6,281.6 440.9,280.1 445.3,278.7C449.8,277.3 454.2,275.2 458.7,273.7C463.1,272.1 468.2,271.0 472.0,269.3C475.9,267.7 478.7,266.0 482.1,263.7C485.4,261.3 488.7,258.7 492.1,255.3C495.4,252.0 498.8,247.5 502.1,243.6C505.4,239.7 508.8,235.6 512.1,231.9C515.4,228.3 519.1,224.3 522.1,221.9C525.2,219.6 527.7,218.8 530.5,217.9C533.2,217.1 536.0,216.9 538.8,216.9C541.6,216.9 544.9,217.4 547.2,217.9C549.4,218.5 550.5,220.2 552.2,220.3C553.8,220.4 555.6,219.3 557.2,218.6C558.7,217.9 560.2,215.4 561.5,215.9C562.8,216.5 563.9,218.1 564.8,221.9C565.8,225.7 566.2,233.1 567.2,238.6C568.1,244.2 569.5,250.6 570.5,255.3C571.5,260.0 572.4,264.6 573.2,267.0C574.0,269.4 574.6,269.9 575.5,269.7C576.5,269.4 578.0,267.7 578.9,265.3C579.7,262.9 579.9,258.5 580.5,255.3C581.2,252.1 581.5,248.2 582.9,246.0C584.3,243.7 587.0,244.0 588.9,242.0C590.7,239.9 592.3,237.0 593.9,233.6C595.4,230.3 596.8,223.6 598.2,221.9C599.6,220.3 600.8,222.8 602.2,223.6C603.6,224.4 605.3,227.5 606.6,226.9C607.8,226.4 608.5,223.3 609.6,220.3C610.6,217.2 611.9,213.3 612.9,208.6C613.9,203.9 614.6,196.9 615.6,191.9C616.6,186.9 617.5,181.8 618.9,178.5C620.3,175.3 621.7,174.3 623.9,172.5C626.2,170.7 629.5,169.2 632.3,167.9C635.1,166.5 637.8,164.9 640.6,164.5C643.4,164.2 646.5,165.6 649.0,165.9C651.5,166.1 652.9,166.5 655.6,165.9C658.4,165.2 662.4,162.8 665.7,161.8C668.9,160.9 670.7,161.2 675.0,160.2C679.3,159.2 686.1,157.0 691.7,155.8C697.3,154.7 700.0,155.0 708.4,153.5C716.7,152.0 730.6,148.9 741.8,146.8C752.9,144.8 764.0,142.8 775.1,141.2C786.3,139.5 800.2,137.6 808.5,136.8C816.9,136.0 819.6,136.7 825.2,136.1C830.8,135.6 833.6,134.2 841.9,133.5C850.2,132.7 864.2,132.2 875.3,131.8C886.4,131.4 900.3,131.2 908.7,130.8C917.0,130.4 921.2,129.7 925.4,129.5C929.5,129.2 931.5,129.0 933.7,129.5C935.9,130.0 936.8,131.6 938.7,132.5C940.7,133.3 943.4,134.4 945.4,134.5C947.3,134.5 948.7,133.6 950.4,132.8C952.1,132.0 953.5,130.0 955.4,129.5C957.3,128.9 959.3,129.1 962.1,129.5C964.9,129.9 968.8,131.2 972.1,131.8C975.4,132.4 979.3,132.2 982.1,132.8C984.9,133.4 986.6,133.8 988.8,135.1C991.0,136.5 993.0,138.6 995.5,141.2C998.0,143.7 1001.6,146.7 1003.8,150.2C1006.0,153.6 1007.5,157.1 1008.8,161.8C1010.1,166.6 1010.4,172.4 1011.5,178.5C1012.6,184.7 1014.3,191.9 1015.5,198.6C1016.7,205.2 1018.0,212.8 1018.8,218.6C1019.7,224.4 1019.7,230.6 1020.5,233.6C1021.3,236.7 1022.4,236.8 1023.8,237.0C1025.2,237.1 1026.9,235.6 1028.8,234.3C1030.8,233.0 1034.0,232.2 1035.5,229.3C1037.1,226.4 1037.1,222.0 1038.2,216.9C1039.3,211.8 1041.1,204.1 1042.2,198.6C1043.3,193.0 1043.7,186.2 1044.9,183.5C1046.0,180.9 1047.5,183.3 1048.9,182.5C1050.3,181.8 1052.1,182.4 1053.2,179.2C1054.3,176.0 1054.6,168.2 1055.5,163.5C1056.5,158.8 1057.9,153.5 1058.9,151.2C1059.9,148.8 1060.7,148.0 1061.5,149.5C1062.4,151.0 1062.9,155.6 1063.9,160.2C1064.8,164.7 1066.1,172.4 1067.2,176.9C1068.3,181.3 1069.7,183.4 1070.6,186.9C1071.4,190.3 1071.1,196.2 1072.2,197.6C1073.3,199.0 1076.0,197.3 1077.2,195.2C1078.5,193.2 1078.7,187.0 1079.6,185.2C1080.4,183.4 1081.4,183.1 1082.2,184.2C1083.1,185.3 1084.1,187.8 1084.9,191.9C1085.7,196.0 1086.3,203.3 1087.3,208.6C1088.2,213.9 1089.5,219.4 1090.6,223.6C1091.7,227.8 1092.5,231.7 1093.9,233.6C1095.3,235.6 1097.3,234.3 1098.9,235.3C1100.6,236.3 1102.7,239.6 1103.9,239.6C1105.2,239.6 1105.8,238.0 1106.6,235.3C1107.4,232.6 1108.0,228.6 1108.9,223.6C1109.9,218.6 1111.4,212.8 1112.3,205.2C1113.2,197.7 1113.5,184.2 1114.3,178.5C1115.1,172.9 1116.0,171.9 1117.3,171.2C1118.6,170.5 1120.6,174.0 1122.3,174.5C1124.0,175.1 1125.6,173.6 1127.3,174.5C1129.0,175.5 1130.6,178.4 1132.3,180.2C1134.0,182.0 1135.7,183.3 1137.3,185.2C1139.0,187.2 1141.1,189.1 1142.3,191.9C1143.5,194.7 1143.7,197.7 1144.5,201.9C1145.2,206.1 1145.9,213.0 1146.8,216.9C1147.8,220.8 1148.9,224.2 1150.1,225.3C1151.4,226.4 1153.4,225.3 1154.5,223.6C1155.6,221.9 1155.9,216.9 1156.8,215.3C1157.8,213.6 1159.2,212.5 1160.2,213.6C1161.1,214.7 1161.6,218.9 1162.5,221.9C1163.4,225.0 1164.7,228.6 1165.8,231.9C1167.0,235.3 1167.9,238.6 1169.2,242.0C1170.5,245.3 1172.0,249.3 1173.5,252.0C1175.1,254.6 1176.9,256.8 1178.5,258.0C1180.2,259.2 1181.9,259.8 1183.5,259.3C1185.2,258.9 1187.0,255.7 1188.5,255.3C1190.0,254.9 1191.2,255.3 1192.5,257.0C1193.9,258.7 1195.3,262.3 1196.9,265.3C1198.4,268.4 1200.2,272.6 1201.9,275.3C1203.6,278.1 1204.9,279.9 1206.9,282.0C1208.8,284.1 1211.1,286.6 1213.6,288.0C1216.1,289.4 1218.9,289.2 1221.9,290.4C1225.0,291.5 1228.6,293.7 1231.9,294.7C1235.3,295.7 1238.6,296.1 1241.9,296.4C1245.3,296.6 1248.9,296.0 1252.0,296.0C1255.0,296.0 1258.2,297.0 1260.3,296.4C1262.4,295.7 1263.4,294.4 1264.6,292.0C1265.9,289.6 1266.8,286.5 1268.0,282.0C1269.2,277.6 1270.5,272.6 1272.0,265.3C1273.5,258.1 1275.3,247.5 1277.0,238.6C1278.7,229.7 1280.3,220.8 1282.0,211.9C1283.7,203.0 1285.5,193.0 1287.0,185.2C1288.6,177.4 1290.0,169.7 1291.3,165.2C1292.7,160.6 1294.1,161.2 1295.4,157.8C1296.6,154.5 1297.7,151.7 1298.7,145.2C1299.7,138.6 1300.5,128.5 1301.4,118.5C1302.2,108.4 1303.0,94.0 1303.7,85.1C1304.4,76.2 1304.8,69.4 1305.4,65.0C1305.9,60.7 1306.5,58.5 1307.0,59.0C1307.6,59.6 1308.0,61.3 1308.7,68.4C1309.4,75.5 1310.2,89.0 1311.0,101.8C1311.9,114.6 1312.9,134.0 1313.7,145.2C1314.5,156.3 1315.2,165.5 1316.1,168.5C1316.9,171.6 1317.9,168.5 1318.7,163.5C1319.6,158.5 1320.2,149.9 1321.1,138.5C1321.9,127.1 1322.9,108.2 1323.7,95.1C1324.6,82.0 1325.2,67.0 1326.1,60.0C1326.9,53.1 1327.7,55.0 1328.7,53.4C1329.7,51.7 1331.1,49.7 1332.1,50.0C1333.1,50.3 1333.9,51.4 1334.7,55.0C1335.6,58.6 1336.2,66.7 1337.1,71.7C1337.9,76.7 1338.9,82.3 1339.8,85.1C1340.6,87.9 1341.3,88.4 1342.1,88.4C1342.9,88.4 1343.9,87.3 1344.8,85.1C1345.6,82.8 1346.3,76.8 1347.1,75.1C1347.9,73.3 1348.6,72.7 1349.4,74.4C1350.3,76.1 1351.1,78.8 1352.1,85.1C1353.1,91.3 1354.3,103.4 1355.4,111.8C1356.6,120.1 1357.4,129.3 1358.8,135.1C1360.2,141.0 1362.1,143.5 1363.8,146.8C1365.5,150.2 1367.2,153.1 1368.8,155.2C1370.4,157.2 1371.9,159.5 1373.1,159.2C1374.4,158.9 1375.4,156.3 1376.5,153.5C1377.6,150.7 1378.9,144.4 1379.8,142.5C1380.8,140.5 1381.4,139.7 1382.1,141.8C1382.9,143.9 1383.6,148.5 1384.5,155.2C1385.3,161.8 1386.2,173.0 1387.2,181.9C1388.2,190.8 1389.4,201.8 1390.5,208.6C1391.6,215.4 1392.4,219.5 1393.8,222.6C1395.2,225.7 1397.3,224.8 1398.8,226.9C1400.3,229.1 1401.6,231.1 1402.8,235.3C1404.1,239.5 1404.9,246.4 1406.2,252.0C1407.5,257.5 1409.0,263.9 1410.5,268.7C1412.1,273.4 1413.6,277.5 1415.5,280.3C1417.5,283.2 1419.7,284.7 1422.2,286.0C1424.7,287.3 1427.8,288.2 1430.5,288.0C1433.3,287.8 1436.1,285.7 1438.9,284.7C1441.7,283.7 1445.0,283.9 1447.2,282.0C1449.5,280.2 1451.0,277.0 1452.2,273.7C1453.5,270.3 1454.2,267.0 1454.9,262.0C1455.6,257.0 1456.0,246.7 1456.2,243.6" stroke="#FF00FF" stroke-width="5.6"/>
</g>
<rect x="218" y="42.7" width="1239" height="1160.8" fill="none" stroke="#000" stroke-width="4.6"/>
<path d="M1244,1191.5 L1256.5,1186.8" stroke="#000" stroke-width="1.2"/><path d="M1273.6,1175.2 L1253.7,1182.7 L1256.4,1186.8 L1257.2,1190.7 Z" fill="#000"/>
<text id="a_yt" transform="translate(91,849.5) rotate(-90)" font-size="65" textLength="501.5" lengthAdjust="spacing">Transmission (%)</text>
<text id="v_a3396" transform="translate(450.0,557.2) rotate(-90) scale(0.975,1)" font-size="44.5">3396</text>
<text id="v_a2870" transform="translate(629.9,611.6) rotate(-90) scale(0.975,1)" font-size="44.5">2870</text>
<text id="v_a3560" transform="translate(390.1,896.0) rotate(-90) scale(0.975,1)" font-size="41">3560</text>
<text id="v_a3550" transform="translate(391.6,1043.0) rotate(-90) scale(0.975,1)" font-size="44.5">3550</text>
<text id="v_a3740" transform="translate(329.6,1118.0) rotate(-90) scale(0.975,1)" font-size="44.5">3740</text>
<text id="v_a3430" transform="translate(434.2,1163.4) rotate(-90) scale(0.975,1)" font-size="44.5">3430</text>
<text id="v_a2920" transform="translate(593.4,879.1) rotate(-90) scale(0.975,1)" font-size="44.5">2920</text>
<text id="v_a1440" transform="translate(1116.7,915.0) rotate(-90) scale(0.975,1)" font-size="44.5">1440</text>
<text id="v_a1636" transform="translate(1047.7,1097.2) rotate(-90) scale(0.975,1)" font-size="44.5">1636</text>
<text id="v_a1386" transform="translate(1135.7,1095.1) rotate(-90) scale(0.975,1)" font-size="44.5">1386</text>
<text id="v_a1192" transform="translate(1196.9,817.5) rotate(-90) scale(0.975,1)" font-size="44.5">1192</text>
<text id="v_a980" transform="translate(1271.5,941.3) rotate(-90) scale(0.975,1)" font-size="44.5">980</text>
<text id="v_a790" transform="translate(1340.1,880.4) rotate(-90) scale(0.975,1)" font-size="44.5">790</text>
<text id="v_a683" transform="translate(1386.2,933.8) rotate(-90) scale(0.975,1)" font-size="44.5">683</text>
<text id="v_a866" transform="translate(1322.1,1076.3) rotate(-90) scale(0.975,1)" font-size="44.5">866</text>
<text id="v_a476" transform="translate(1448.4,1067.4) rotate(-90) scale(0.975,1)" font-size="44.5">476</text>
<text id="v_a1020" transform="translate(1305.7,1195.4) rotate(-90) scale(0.975,1)" font-size="44.5">1020</text>
<text id="v_a806" transform="translate(1337.0,249.2) rotate(-90) scale(0.975,1)" font-size="44.5">806</text>
<text id="a_v" transform="translate(231.6,199.2) scale(0.95,1)" font-size="53">v</text>
<text id="a_iv" transform="translate(224.4,329.0) scale(0.985,1)" font-size="52">iv</text>
<text id="a_iii" transform="translate(224.0,522.6) scale(1.02,1)" font-size="52.5">iii</text>
<text id="a_ii" transform="translate(225.6,709.3) scale(1.03,1)" font-size="52.5">ii</text>
<text id="a_i" transform="translate(233.0,769.2)" font-size="52">i</text>
<text id="a_PAL" transform="translate(218.8,962.0) scale(1.017,1)" font-size="51">PAL</text>
<text id="a_a" transform="translate(43.0,118.8) scale(1.055,1)" font-size="168" font-weight="normal">a</text>
<text id="a_t400" transform="translate(1419.5,1266.8) scale(0.955,1)" font-size="52.3">400</text>
<text id="a_t800" transform="translate(1281.5,1266.8) scale(0.955,1)" font-size="52.3">800</text>
<text id="a_t1200" transform="translate(1130.0,1266.8) scale(0.955,1)" font-size="52.3">1200</text>
<text id="a_t1600" transform="translate(992.0,1266.8) scale(0.955,1)" font-size="52.3">1600</text>
<text id="a_t2000" transform="translate(856.0,1266.8) scale(0.955,1)" font-size="52.3">2000</text>
<text id="a_t2400" transform="translate(718.0,1266.8) scale(0.955,1)" font-size="52.3">2400</text>
<text id="a_t2800" transform="translate(580.0,1266.8) scale(0.955,1)" font-size="52.3">2800</text>
<text id="a_t3200" transform="translate(443.0,1266.8) scale(0.955,1)" font-size="52.3">3200</text>
<text id="a_t3600" transform="translate(305.0,1266.8) scale(0.955,1)" font-size="52.3">3600</text>
<text id="a_t4000" transform="translate(168.0,1266.8) scale(0.955,1)" font-size="52.3">4000</text>
<text id="a_xt_W" transform="translate(551.4,1363.2) scale(1.017,1)" font-size="63.5">Wavenumber</text>
<text id="a_xt_lp" transform="translate(946.0,1364.6) scale(1.05,1)" font-size="48.7" font-weight="normal">(</text>
<text id="a_xt_cm" transform="translate(963.4,1365.0)" font-size="63.5">cm</text>
<text id="a_xt_m1" transform="translate(1044.4,1346.4)" font-size="66">-1</text>
<text id="a_xt_rp" transform="translate(1098.4,1364.6) scale(1.05,1)" font-size="48.7" font-weight="normal">)</text>
<path d="M1388.8,2546.5V2538.5M1320.0,2546.5V2530.5M1251.3,2546.5V2538.5M1182.6,2546.5V2530.5M1113.8,2546.5V2538.5M1045.1,2546.5V2530.5M976.4,2546.5V2538.5M907.6,2546.5V2530.5M838.9,2546.5V2538.5M770.2,2546.5V2530.5M701.4,2546.5V2538.5M632.7,2546.5V2530.5M564.0,2546.5V2538.5M495.2,2546.5V2530.5M426.5,2546.5V2538.5M357.8,2546.5V2530.5M289.0,2546.5V2538.5" stroke="#000" stroke-width="4" fill="none"/>
<rect x="367.9" y="1460.0" width="84.5" height="1074.0" fill="#D0CFFB"/>
<rect x="567.2" y="1461.7" width="84.1" height="1074.3" fill="#55FF99"/>
<rect x="986.4" y="1462.4" width="84.5" height="1074.6" fill="#FF9ED9"/>
<rect x="1087.6" y="1462.4" width="84.2" height="1074.6" fill="#F2E75A"/>
<rect x="1190.2" y="1462.4" width="84.1" height="1074.6" fill="#00FFD9"/>
<rect x="1298.7" y="1461.0" width="84.1" height="1074.0" fill="#F7F7A8"/>
<clipPath id="cb"><rect x="220.3" y="1444.7" width="1237.2" height="1101.8"/></clipPath>
<g clip-path="url(#cb)" fill="none" stroke-linejoin="round" stroke-linecap="round">
<path d="M223.4,2320.2C225.9,2320.8 233.1,2322.4 238.4,2323.6C243.7,2324.7 249.5,2325.8 255.1,2326.9C260.6,2328.0 266.2,2329.1 271.8,2330.2C277.3,2331.3 283.7,2332.7 288.5,2333.6C293.2,2334.4 297.5,2334.0 300.1,2335.2C302.8,2336.5 303.4,2338.0 304.5,2340.9C305.6,2343.8 305.9,2349.7 306.8,2352.6C307.8,2355.5 309.0,2357.3 310.1,2358.3C311.3,2359.2 312.4,2359.2 313.5,2358.3C314.6,2357.3 315.7,2354.2 316.8,2352.6C317.9,2351.0 318.8,2349.3 320.2,2348.6C321.6,2347.9 323.2,2347.6 325.2,2348.6C327.1,2349.5 329.1,2351.8 331.8,2354.3C334.6,2356.8 338.5,2360.6 341.9,2363.6C345.2,2366.7 348.5,2369.8 351.9,2372.6C355.2,2375.4 358.6,2377.8 361.9,2380.3C365.2,2382.8 368.6,2384.8 371.9,2387.7C375.2,2390.5 378.6,2395.3 381.9,2397.7C385.3,2400.0 388.6,2400.4 391.9,2401.7C395.3,2402.9 398.6,2404.0 401.9,2405.0C405.3,2406.0 408.9,2407.7 412.0,2407.7C415.0,2407.7 417.5,2406.7 420.3,2405.0C423.1,2403.3 425.9,2400.8 428.7,2397.7C431.4,2394.5 434.5,2389.9 437.0,2386.0C439.5,2382.1 441.2,2378.2 443.7,2374.3C446.2,2370.4 448.7,2366.0 452.0,2362.6C455.4,2359.3 459.5,2356.9 463.7,2354.3C467.9,2351.7 472.3,2349.7 477.1,2346.9C481.8,2344.1 486.8,2340.5 492.1,2337.6C497.4,2334.6 503.2,2331.3 508.8,2329.2C514.3,2327.1 519.9,2326.1 525.5,2324.9C531.0,2323.7 536.6,2322.7 542.1,2321.9C547.7,2321.1 553.8,2320.4 558.8,2320.2C563.8,2320.1 568.0,2320.5 572.2,2320.9C576.4,2321.3 581.0,2321.8 583.9,2322.6C586.8,2323.3 587.9,2325.1 589.5,2325.2C591.2,2325.3 592.0,2323.9 593.9,2323.2C595.7,2322.5 595.8,2321.7 600.6,2320.9C605.3,2320.1 614.2,2318.9 622.3,2318.6C630.3,2318.2 640.2,2318.4 649.0,2318.6C657.8,2318.7 665.1,2319.0 675.0,2319.2C684.9,2319.4 697.3,2319.5 708.4,2319.9C719.5,2320.3 730.6,2321.1 741.8,2321.6C752.9,2322.1 764.0,2322.4 775.1,2322.9C786.3,2323.3 797.4,2323.8 808.5,2324.2C819.6,2324.6 833.0,2325.0 841.9,2325.2C850.8,2325.5 854.7,2325.6 861.9,2325.6C869.2,2325.6 878.6,2325.7 885.3,2325.2C892.0,2324.7 895.3,2323.3 902.0,2322.6C908.7,2321.8 917.6,2321.6 925.4,2320.9C933.1,2320.2 941.5,2319.1 948.7,2318.6C956.0,2318.0 962.6,2317.6 968.8,2317.6C974.9,2317.5 980.2,2317.7 985.4,2318.2C990.7,2318.8 996.0,2319.6 1000.5,2320.9C1004.9,2322.2 1008.8,2323.9 1012.1,2325.9C1015.5,2327.8 1018.3,2330.3 1020.5,2332.6C1022.7,2334.8 1023.8,2337.4 1025.5,2339.2C1027.2,2341.1 1028.8,2343.0 1030.5,2343.6C1032.2,2344.1 1033.8,2343.9 1035.5,2342.6C1037.2,2341.3 1038.8,2338.3 1040.5,2335.9C1042.2,2333.5 1043.6,2330.5 1045.5,2328.2C1047.5,2326.0 1049.4,2323.8 1052.2,2322.6C1055.0,2321.3 1058.3,2321.2 1062.2,2320.9C1066.1,2320.6 1070.6,2320.8 1075.6,2320.9C1080.6,2321.0 1087.5,2321.0 1092.3,2321.6C1097.0,2322.1 1100.9,2322.8 1103.9,2324.2C1107.0,2325.7 1108.8,2327.9 1110.6,2330.2C1112.5,2332.6 1113.7,2336.5 1115.0,2338.2C1116.2,2340.0 1117.2,2340.9 1118.3,2340.9C1119.4,2340.9 1120.5,2339.9 1121.6,2338.2C1122.7,2336.6 1123.5,2333.1 1125.0,2330.9C1126.5,2328.7 1128.6,2326.3 1130.6,2324.9C1132.7,2323.5 1133.8,2322.9 1137.3,2322.6C1140.9,2322.2 1147.7,2322.1 1151.8,2322.6C1155.9,2323.0 1158.5,2323.9 1161.8,2325.2C1165.2,2326.5 1168.8,2327.9 1171.8,2330.2C1174.9,2332.6 1177.7,2336.1 1180.2,2339.2C1182.7,2342.4 1184.6,2345.4 1186.9,2349.3C1189.1,2353.2 1191.6,2358.4 1193.5,2362.6C1195.5,2366.8 1196.9,2370.1 1198.6,2374.3C1200.2,2378.5 1202.2,2382.7 1203.6,2387.7C1204.9,2392.6 1205.8,2399.0 1206.9,2404.0C1208.0,2409.0 1209.1,2412.3 1210.2,2417.4C1211.3,2422.4 1212.2,2427.9 1213.6,2434.0C1215.0,2440.2 1216.9,2448.5 1218.6,2454.1C1220.2,2459.6 1222.0,2463.0 1223.6,2467.4C1225.1,2471.9 1226.5,2475.2 1227.9,2480.8C1229.3,2486.3 1230.7,2494.7 1231.9,2500.8C1233.2,2506.9 1234.2,2512.2 1235.3,2517.5C1236.4,2522.8 1237.4,2528.9 1238.6,2532.5C1239.8,2536.1 1241.4,2538.9 1242.6,2539.2C1243.8,2539.5 1245.0,2537.2 1246.0,2534.2C1247.0,2531.1 1247.6,2526.4 1248.6,2520.8C1249.6,2515.3 1250.7,2508.6 1252.0,2500.8C1253.2,2493.0 1254.6,2482.4 1256.0,2474.1C1257.4,2465.8 1258.9,2457.1 1260.3,2450.7C1261.8,2444.3 1262.7,2438.9 1264.6,2435.7C1266.6,2432.5 1270.1,2433.9 1272.0,2431.4C1273.9,2428.9 1274.8,2427.4 1276.0,2420.7C1277.2,2414.0 1278.2,2400.4 1279.3,2391.0C1280.4,2381.6 1281.4,2371.2 1282.7,2364.3C1284.0,2357.3 1285.2,2352.3 1287.0,2349.3C1288.8,2346.2 1291.9,2347.9 1293.7,2345.9C1295.5,2344.0 1296.6,2341.5 1298.0,2337.6C1299.4,2333.7 1300.5,2326.3 1302.0,2322.6C1303.5,2318.8 1305.5,2316.4 1307.0,2314.9C1308.6,2313.4 1309.9,2313.1 1311.4,2313.5C1312.9,2314.0 1314.5,2316.0 1316.1,2317.6C1317.6,2319.1 1318.8,2321.7 1320.4,2322.6C1321.9,2323.4 1323.5,2323.1 1325.4,2322.6C1327.3,2322.0 1329.8,2319.9 1332.1,2319.2C1334.3,2318.6 1336.5,2318.3 1338.8,2318.6C1341.0,2318.8 1343.2,2319.4 1345.4,2320.9C1347.7,2322.4 1349.9,2325.2 1352.1,2327.6C1354.3,2329.9 1356.8,2334.1 1358.8,2334.9C1360.7,2335.7 1362.1,2333.4 1363.8,2332.6C1365.5,2331.8 1367.1,2330.0 1368.8,2330.2C1370.5,2330.5 1372.1,2331.6 1373.8,2334.2C1375.5,2336.9 1377.1,2342.0 1378.8,2345.9C1380.5,2349.8 1382.1,2354.8 1383.8,2357.6C1385.5,2360.4 1387.2,2360.9 1388.8,2362.6C1390.5,2364.3 1392.4,2364.0 1393.8,2367.6C1395.2,2371.2 1396.3,2378.2 1397.2,2384.3C1398.0,2390.4 1397.7,2397.9 1398.8,2404.0C1399.9,2410.1 1401.9,2414.6 1403.8,2420.7C1405.8,2426.8 1408.3,2433.5 1410.5,2440.7C1412.7,2448.0 1415.0,2456.9 1417.2,2464.1C1419.4,2471.3 1421.4,2478.7 1423.9,2484.1C1426.4,2489.6 1429.7,2497.1 1432.2,2496.8C1434.7,2496.5 1436.7,2487.6 1438.9,2482.4C1441.1,2477.3 1443.6,2470.8 1445.6,2465.8C1447.5,2460.7 1449.2,2457.7 1450.6,2452.4C1452.0,2447.1 1453.0,2442.1 1453.9,2434.0C1454.9,2426.0 1455.9,2409.0 1456.2,2404.0" stroke="#000000" stroke-width="5.8"/>
<path d="M223.4,2165.7C228.6,2165.5 244.8,2164.9 255.1,2164.7C265.4,2164.4 276.8,2163.8 285.1,2164.0C293.5,2164.2 299.9,2164.8 305.1,2165.7C310.4,2166.5 313.8,2167.3 316.8,2169.0C319.9,2170.7 321.3,2172.9 323.5,2175.7C325.7,2178.5 328.0,2181.8 330.2,2185.7C332.4,2189.6 334.9,2194.6 336.9,2199.0C338.8,2203.5 340.2,2208.2 341.9,2212.4C343.5,2216.6 344.9,2220.7 346.9,2224.1C348.8,2227.4 351.0,2230.1 353.5,2232.4C356.0,2234.8 358.8,2236.8 361.9,2238.1C364.9,2239.4 368.0,2239.7 371.9,2240.1C375.8,2240.6 380.8,2240.2 385.3,2240.8C389.7,2241.3 394.4,2242.8 398.6,2243.4C402.8,2244.1 406.7,2244.9 410.3,2244.8C413.9,2244.6 417.2,2243.9 420.3,2242.4C423.4,2240.9 425.9,2238.6 428.7,2235.8C431.4,2233.0 434.5,2229.6 437.0,2225.8C439.5,2221.9 441.2,2216.6 443.7,2212.4C446.2,2208.2 449.0,2204.1 452.0,2200.7C455.1,2197.4 458.7,2194.9 462.0,2192.4C465.4,2189.9 468.7,2187.9 472.0,2185.7C475.4,2183.5 478.7,2181.2 482.1,2179.0C485.4,2176.8 488.7,2174.4 492.1,2172.3C495.4,2170.3 498.2,2169.4 502.1,2166.7C506.0,2163.9 510.4,2159.0 515.4,2155.8C520.4,2152.6 526.6,2150.0 532.1,2147.5C537.7,2145.0 543.3,2142.6 548.8,2140.8C554.4,2139.0 561.6,2137.1 565.5,2136.8C569.4,2136.5 570.0,2138.9 572.2,2139.2C574.4,2139.4 576.1,2139.0 578.9,2138.2C581.6,2137.3 585.0,2135.6 588.9,2134.1C592.8,2132.6 597.8,2130.9 602.2,2129.1C606.7,2127.4 610.6,2125.1 615.6,2123.5C620.6,2121.8 626.2,2120.7 632.3,2119.1C638.4,2117.6 645.2,2115.6 652.3,2114.1C659.4,2112.6 665.7,2111.8 675.0,2110.1C684.3,2108.4 697.3,2105.7 708.4,2104.1C719.5,2102.5 734.8,2101.2 741.8,2100.8C748.7,2100.4 747.6,2101.1 750.1,2101.8C752.6,2102.4 754.8,2104.4 756.8,2104.8C758.7,2105.2 760.1,2104.9 761.8,2104.1C763.5,2103.3 765.1,2101.3 766.8,2100.1C768.5,2098.9 768.2,2097.9 771.8,2096.8C775.4,2095.6 782.4,2094.4 788.5,2093.4C794.6,2092.4 799.6,2091.9 808.5,2090.8C817.4,2089.6 830.8,2088.0 841.9,2086.7C853.0,2085.5 866.9,2084.7 875.3,2083.4C883.6,2082.1 886.4,2080.3 892.0,2079.1C897.5,2077.8 903.1,2076.6 908.7,2075.7C914.2,2074.9 919.8,2074.6 925.4,2074.1C930.9,2073.5 936.5,2072.9 942.0,2072.4C947.6,2071.8 954.0,2071.0 958.7,2070.7C963.5,2070.4 967.6,2070.3 970.4,2070.7C973.2,2071.2 973.5,2072.8 975.4,2073.4C977.4,2073.9 979.6,2074.1 982.1,2074.1C984.6,2074.0 987.7,2073.1 990.4,2073.1C993.2,2073.1 996.0,2073.1 998.8,2074.1C1001.6,2075.1 1004.6,2076.6 1007.1,2079.1C1009.6,2081.6 1011.9,2085.2 1013.8,2089.1C1015.8,2093.0 1017.2,2097.4 1018.8,2102.4C1020.5,2107.4 1022.4,2114.7 1023.8,2119.1C1025.2,2123.6 1026.1,2126.9 1027.2,2129.1C1028.3,2131.4 1029.4,2132.8 1030.5,2132.5C1031.6,2132.2 1032.7,2130.3 1033.8,2127.5C1035.0,2124.7 1036.1,2120.2 1037.2,2115.8C1038.3,2111.3 1039.4,2105.2 1040.5,2100.8C1041.6,2096.3 1042.5,2092.0 1043.9,2089.1C1045.2,2086.2 1046.6,2084.5 1048.9,2083.4C1051.1,2082.3 1054.7,2082.2 1057.2,2082.4C1059.7,2082.6 1061.7,2083.5 1063.9,2084.7C1066.1,2086.0 1068.3,2088.4 1070.6,2090.1C1072.8,2091.8 1075.0,2093.3 1077.2,2094.8C1079.5,2096.3 1082.0,2097.3 1083.9,2099.1C1085.9,2100.9 1087.5,2102.7 1088.9,2105.8C1090.3,2108.8 1091.1,2112.7 1092.4,2117.5C1093.7,2122.2 1095.5,2128.6 1096.7,2134.1C1098.0,2139.7 1098.9,2144.7 1100.1,2150.8C1101.3,2156.9 1103.0,2162.9 1104.1,2170.7C1105.2,2178.4 1105.8,2187.4 1106.8,2197.4C1107.8,2207.4 1109.0,2218.5 1110.1,2230.8C1111.2,2243.0 1112.3,2257.5 1113.4,2270.8C1114.5,2284.2 1115.8,2300.0 1116.8,2310.9C1117.7,2321.7 1118.3,2335.9 1119.1,2335.9C1119.9,2335.9 1120.8,2322.8 1121.8,2310.9C1122.8,2298.9 1124.0,2280.3 1125.1,2264.1C1126.2,2248.0 1127.3,2228.0 1128.5,2214.1C1129.6,2200.2 1130.7,2191.2 1131.8,2180.7C1132.9,2170.2 1134.4,2159.1 1135.1,2150.8C1135.9,2142.5 1135.6,2139.7 1136.1,2130.8C1136.7,2121.9 1137.4,2106.3 1138.5,2097.4C1139.5,2088.5 1140.8,2082.1 1142.5,2077.4C1144.1,2072.7 1146.1,2071.0 1148.5,2069.1C1150.9,2067.1 1154.0,2065.7 1156.8,2065.7C1159.6,2065.7 1162.4,2067.1 1165.2,2069.1C1168.0,2071.0 1171.4,2073.8 1173.5,2077.4C1175.6,2081.0 1176.5,2085.7 1177.9,2090.8C1179.2,2095.8 1180.5,2102.7 1181.9,2107.4C1183.2,2112.2 1184.5,2117.0 1185.9,2119.1C1187.3,2121.2 1188.8,2121.0 1190.2,2120.1C1191.6,2119.3 1192.9,2115.6 1194.2,2114.1C1195.5,2112.7 1196.7,2111.4 1197.9,2111.4C1199.1,2111.4 1200.1,2111.4 1201.2,2114.1C1202.3,2116.8 1203.4,2121.9 1204.6,2127.5C1205.7,2133.0 1206.8,2140.3 1207.9,2147.5C1209.0,2154.7 1210.0,2163.5 1210.9,2170.7C1211.8,2177.9 1212.3,2183.5 1213.6,2190.7C1214.9,2197.9 1216.6,2207.4 1218.6,2214.1C1220.5,2220.7 1223.3,2224.1 1225.3,2230.8C1227.2,2237.4 1228.7,2246.3 1230.3,2254.1C1231.8,2261.9 1233.2,2271.8 1234.6,2277.5C1236.0,2283.2 1237.1,2286.1 1238.6,2288.2C1240.1,2290.3 1241.9,2290.3 1243.6,2290.2C1245.3,2290.1 1247.0,2287.7 1248.6,2287.5C1250.3,2287.3 1252.1,2290.0 1253.6,2289.2C1255.2,2288.3 1256.7,2286.7 1258.0,2282.5C1259.2,2278.3 1260.2,2272.8 1261.3,2264.1C1262.4,2255.5 1263.5,2241.9 1264.6,2230.8C1265.8,2219.6 1266.9,2207.1 1268.0,2197.4C1269.0,2187.6 1270.3,2180.7 1271.0,2172.3C1271.7,2164.0 1271.5,2154.4 1272.0,2147.5C1272.4,2140.6 1272.7,2139.2 1273.7,2130.8C1274.6,2122.5 1276.2,2107.4 1277.7,2097.4C1279.2,2087.4 1280.8,2078.5 1282.7,2070.7C1284.5,2062.9 1286.6,2055.7 1288.7,2050.7C1290.8,2045.7 1293.4,2042.8 1295.4,2040.7C1297.3,2038.6 1298.7,2037.7 1300.4,2038.0C1302.0,2038.3 1303.7,2042.2 1305.4,2042.3C1307.0,2042.5 1309.0,2040.7 1310.4,2039.0C1311.8,2037.3 1312.6,2033.6 1313.7,2032.3C1314.8,2031.1 1315.8,2030.8 1317.1,2031.3C1318.3,2031.9 1319.4,2034.6 1321.4,2035.7C1323.3,2036.8 1326.1,2037.7 1328.7,2038.0C1331.4,2038.3 1334.6,2037.2 1337.1,2037.3C1339.6,2037.5 1341.7,2037.3 1343.8,2039.0C1345.8,2040.7 1347.6,2043.7 1349.4,2047.4C1351.3,2051.0 1352.9,2057.4 1354.8,2060.7C1356.6,2064.0 1358.4,2066.4 1360.4,2067.4C1362.5,2068.4 1364.9,2066.4 1367.1,2066.7C1369.3,2067.0 1371.6,2067.6 1373.8,2069.1C1376.0,2070.6 1378.4,2072.7 1380.5,2075.7C1382.5,2078.8 1384.5,2081.6 1386.2,2087.4C1387.8,2093.3 1389.1,2102.4 1390.5,2110.8C1391.9,2119.1 1393.4,2129.7 1394.5,2137.5C1395.6,2145.3 1396.3,2151.4 1397.2,2157.5C1398.0,2163.6 1398.7,2167.4 1399.5,2174.0C1400.3,2180.7 1400.7,2187.4 1402.2,2197.4C1403.6,2207.4 1406.0,2222.4 1408.2,2234.1C1410.4,2245.8 1412.9,2256.9 1415.5,2267.5C1418.1,2278.1 1421.1,2287.5 1423.9,2297.5C1426.7,2307.5 1429.7,2318.1 1432.2,2327.6C1434.7,2337.0 1437.1,2348.4 1438.9,2354.3C1440.7,2360.1 1441.5,2362.3 1442.9,2362.6C1444.3,2362.9 1445.8,2360.1 1447.2,2355.9C1448.7,2351.8 1450.3,2345.1 1451.6,2337.6C1452.9,2330.1 1454.0,2318.7 1454.9,2310.9C1455.8,2303.1 1456.6,2294.2 1456.9,2290.8" stroke="#00FF00" stroke-width="6.4"/>
<path d="M223.4,1996.3C228.6,1996.2 244.8,1995.8 255.1,1995.6C265.4,1995.4 277.3,1995.1 285.1,1995.3C292.9,1995.4 297.1,1996.1 301.8,1996.6C306.5,1997.1 310.4,1997.3 313.5,1998.3C316.5,1999.2 317.9,2000.2 320.2,2002.3C322.4,2004.3 324.6,2007.3 326.8,2010.6C329.1,2014.0 331.6,2018.1 333.5,2022.3C335.5,2026.5 336.9,2030.9 338.5,2035.7C340.2,2040.4 341.9,2045.4 343.5,2050.7C345.2,2056.0 346.9,2062.1 348.5,2067.4C350.2,2072.7 351.6,2078.0 353.5,2082.4C355.5,2086.9 357.7,2091.3 360.2,2094.1C362.7,2096.9 364.9,2097.9 368.6,2099.1C372.2,2100.3 377.5,2100.3 381.9,2101.4C386.4,2102.5 391.4,2104.2 395.3,2105.8C399.2,2107.3 402.2,2109.8 405.3,2110.8C408.3,2111.8 410.8,2112.2 413.6,2111.8C416.4,2111.3 419.2,2109.9 422.0,2108.1C424.8,2106.3 427.5,2104.2 430.3,2100.8C433.1,2097.3 436.2,2092.1 438.7,2087.4C441.2,2082.7 442.8,2077.4 445.3,2072.4C447.8,2067.4 451.2,2061.3 453.7,2057.4C456.2,2053.5 457.6,2051.5 460.4,2049.0C463.1,2046.5 467.0,2044.6 470.4,2042.3C473.7,2040.1 477.1,2038.5 480.4,2035.7C483.7,2032.9 487.1,2029.0 490.4,2025.7C493.7,2022.3 497.1,2018.7 500.4,2015.6C503.8,2012.6 507.1,2009.8 510.4,2007.3C513.8,2004.8 516.6,2002.8 520.4,2000.6C524.3,1998.4 529.3,1995.9 533.8,1993.9C538.3,1992.0 542.7,1990.3 547.2,1988.9C551.6,1987.5 557.2,1986.4 560.5,1985.6C563.8,1984.8 565.3,1983.5 567.2,1983.9C569.0,1984.3 570.1,1986.4 571.5,1987.9C572.9,1989.4 574.2,1992.2 575.5,1992.9C576.9,1993.7 578.1,1993.1 579.5,1992.3C580.9,1991.4 582.0,1989.3 583.9,1987.9C585.7,1986.5 588.3,1985.3 590.5,1983.9C592.8,1982.6 595.3,1981.0 597.2,1979.9C599.2,1978.8 600.3,1977.8 602.2,1977.3C604.2,1976.7 606.4,1977.4 608.9,1976.6C611.4,1975.8 614.5,1973.5 617.3,1972.2C620.0,1971.0 622.0,1969.9 625.6,1968.9C629.2,1967.9 634.5,1967.1 638.9,1966.2C643.4,1965.4 647.9,1964.7 652.3,1963.9C656.8,1963.1 661.9,1961.8 665.7,1961.2C669.4,1960.7 667.9,1961.1 675.0,1960.6C682.1,1960.0 697.3,1958.3 708.4,1957.9C719.5,1957.5 734.8,1957.9 741.8,1958.2C748.7,1958.6 747.6,1959.0 750.1,1959.9C752.6,1960.8 754.8,1963.2 756.8,1963.9C758.7,1964.6 760.1,1964.7 761.8,1963.9C763.5,1963.1 765.1,1960.3 766.8,1958.9C768.5,1957.5 769.3,1956.3 771.8,1955.6C774.3,1954.8 777.4,1954.9 781.8,1954.6C786.3,1954.2 791.3,1953.4 798.5,1953.2C805.7,1953.0 815.2,1953.0 825.2,1953.2C835.2,1953.4 850.2,1954.2 858.6,1954.6C866.9,1954.9 869.7,1955.7 875.3,1955.6C880.8,1955.4 886.4,1954.3 892.0,1953.9C897.5,1953.4 903.1,1953.2 908.7,1952.9C914.2,1952.6 919.8,1952.2 925.4,1952.2C930.9,1952.2 936.5,1952.7 942.0,1952.9C947.6,1953.1 954.3,1952.9 958.7,1953.2C963.2,1953.5 966.0,1953.6 968.8,1954.6C971.5,1955.5 973.2,1957.8 975.4,1958.9C977.7,1960.0 979.6,1961.0 982.1,1961.2C984.6,1961.5 987.7,1960.4 990.4,1960.6C993.2,1960.7 996.0,1961.1 998.8,1962.2C1001.6,1963.3 1004.6,1965.0 1007.1,1967.2C1009.6,1969.5 1011.9,1972.2 1013.8,1975.6C1015.8,1978.9 1017.2,1982.5 1018.8,1987.3C1020.5,1992.0 1022.3,1998.5 1023.8,2004.0C1025.4,2009.4 1026.9,2016.2 1028.2,2020.0C1029.4,2023.8 1030.3,2026.3 1031.5,2026.7C1032.7,2027.0 1034.3,2025.0 1035.5,2022.3C1036.7,2019.6 1037.7,2015.1 1038.8,2010.6C1040.0,2006.2 1041.2,1999.8 1042.2,1995.6C1043.2,1991.4 1043.7,1988.0 1044.9,1985.6C1046.0,1983.2 1046.8,1982.0 1048.9,1981.3C1050.9,1980.5 1054.7,1980.7 1057.2,1981.3C1059.7,1981.8 1061.7,1982.9 1063.9,1984.6C1066.1,1986.3 1068.3,1989.1 1070.6,1991.3C1072.8,1993.5 1075.0,1996.1 1077.2,1998.0C1079.5,1999.8 1081.8,2000.6 1083.9,2002.3C1086.0,2004.0 1088.5,2006.6 1089.9,2008.0C1091.4,2009.4 1091.6,2008.0 1092.7,2010.6C1093.9,2013.3 1095.3,2019.0 1096.7,2024.0C1098.1,2029.0 1099.7,2034.6 1101.1,2040.7C1102.5,2046.8 1103.8,2053.5 1105.1,2060.7C1106.4,2067.9 1107.9,2075.7 1109.1,2084.1C1110.3,2092.4 1111.3,2101.9 1112.4,2110.8C1113.5,2119.7 1114.9,2129.7 1115.8,2137.5C1116.7,2145.3 1117.2,2150.3 1117.8,2157.5C1118.3,2164.7 1118.7,2171.3 1119.1,2180.7C1119.5,2190.1 1119.7,2200.2 1120.1,2214.1C1120.6,2228.0 1121.3,2250.2 1121.8,2264.1C1122.2,2278.1 1122.3,2297.5 1122.8,2297.5C1123.2,2297.5 1123.8,2278.1 1124.4,2264.1C1125.1,2250.2 1126.0,2228.5 1126.8,2214.1C1127.6,2199.6 1128.4,2188.4 1129.1,2177.4C1129.8,2166.3 1130.6,2155.3 1131.1,2147.5C1131.7,2139.7 1131.7,2141.9 1132.5,2130.8C1133.2,2119.7 1134.7,2097.4 1135.8,2080.7C1136.9,2064.0 1138.0,2043.5 1139.1,2030.7C1140.2,2017.9 1140.9,2010.4 1142.5,2004.0C1144.0,1997.6 1146.1,1995.1 1148.5,1992.3C1150.9,1989.5 1154.0,1987.7 1156.8,1987.3C1159.6,1986.9 1162.4,1988.3 1165.2,1989.9C1168.0,1991.6 1171.3,1994.4 1173.5,1997.3C1175.7,2000.2 1177.0,2002.8 1178.5,2007.3C1180.0,2011.7 1181.1,2018.7 1182.5,2024.0C1183.9,2029.3 1185.4,2035.7 1186.9,2039.0C1188.3,2042.3 1189.8,2044.0 1191.2,2044.0C1192.6,2044.0 1194.0,2040.7 1195.2,2039.0C1196.4,2037.3 1197.3,2034.6 1198.6,2034.0C1199.8,2033.4 1201.3,2033.4 1202.6,2035.7C1203.8,2037.9 1204.8,2042.1 1205.9,2047.4C1207.0,2052.6 1208.1,2060.2 1209.2,2067.4C1210.3,2074.6 1211.5,2083.0 1212.6,2090.8C1213.7,2098.5 1214.6,2106.9 1215.9,2114.1C1217.2,2121.3 1218.7,2128.0 1220.2,2134.1C1221.8,2140.3 1223.7,2145.0 1225.3,2150.8C1226.8,2156.6 1228.5,2164.6 1229.6,2169.0C1230.7,2173.4 1231.0,2172.6 1231.9,2177.4C1232.9,2182.1 1234.2,2190.7 1235.3,2197.4C1236.4,2204.1 1237.4,2212.7 1238.6,2217.4C1239.8,2222.1 1241.2,2224.6 1242.6,2225.8C1244.0,2226.9 1245.4,2224.6 1247.0,2224.1C1248.5,2223.5 1250.3,2222.1 1252.0,2222.4C1253.6,2222.7 1255.6,2226.6 1257.0,2225.8C1258.4,2224.9 1259.2,2222.7 1260.3,2217.4C1261.4,2212.1 1262.8,2201.3 1263.6,2194.0C1264.5,2186.8 1264.8,2181.2 1265.3,2174.0C1265.9,2166.8 1266.4,2158.0 1267.0,2150.8C1267.5,2143.6 1267.8,2140.8 1268.7,2130.8C1269.5,2120.8 1270.6,2104.1 1272.0,2090.8C1273.4,2077.4 1275.2,2062.9 1277.0,2050.7C1278.8,2038.5 1280.6,2026.8 1282.7,2017.3C1284.7,2007.9 1287.2,2000.1 1289.3,1993.9C1291.5,1987.8 1293.5,1983.4 1295.4,1980.6C1297.2,1977.8 1298.7,1977.4 1300.4,1977.3C1302.0,1977.1 1303.7,1979.6 1305.4,1979.9C1307.0,1980.2 1308.8,1980.2 1310.4,1978.9C1311.9,1977.6 1313.4,1973.6 1314.7,1972.2C1316.0,1970.9 1316.8,1970.3 1318.1,1970.6C1319.3,1970.9 1320.3,1972.8 1322.1,1973.9C1323.8,1975.0 1326.2,1976.4 1328.7,1977.3C1331.2,1978.1 1334.6,1977.8 1337.1,1978.9C1339.6,1980.0 1341.5,1981.7 1343.8,1983.9C1346.0,1986.2 1348.2,1988.9 1350.4,1992.3C1352.7,1995.6 1355.2,2001.2 1357.1,2004.0C1359.1,2006.7 1360.2,2008.0 1362.1,2009.0C1364.1,2010.0 1366.6,2009.1 1368.8,2010.0C1371.0,2010.8 1373.2,2011.9 1375.5,2014.0C1377.7,2016.0 1379.9,2018.4 1382.1,2022.3C1384.4,2026.2 1386.9,2030.4 1388.8,2037.3C1390.8,2044.3 1392.3,2054.0 1393.8,2064.0C1395.4,2074.1 1396.8,2086.3 1398.2,2097.4C1399.6,2108.6 1401.1,2121.1 1402.2,2130.8C1403.3,2140.5 1404.0,2148.6 1404.8,2155.8C1405.7,2163.0 1406.2,2168.2 1407.2,2174.0C1408.1,2179.8 1408.8,2182.9 1410.5,2190.7C1412.2,2198.5 1414.7,2210.2 1417.2,2220.7C1419.7,2231.3 1423.0,2243.0 1425.5,2254.1C1428.0,2265.3 1430.0,2276.4 1432.2,2287.5C1434.4,2298.6 1437.1,2311.7 1438.9,2320.9C1440.7,2330.1 1441.7,2338.2 1442.9,2342.6C1444.1,2346.9 1445.1,2347.8 1446.2,2346.9C1447.3,2346.1 1448.6,2344.1 1449.6,2337.6C1450.6,2331.0 1451.4,2319.8 1452.2,2307.5C1453.1,2295.3 1454.1,2279.7 1454.9,2264.1C1455.7,2248.6 1456.9,2222.4 1457.3,2214.1" stroke="#0000FF" stroke-width="6.8"/>
<path d="M223.4,1846.4C228.6,1846.0 244.8,1844.6 255.1,1843.7C265.4,1842.9 277.3,1841.6 285.1,1841.4C292.9,1841.2 297.1,1841.9 301.8,1842.7C306.5,1843.6 310.4,1844.8 313.5,1846.4C316.5,1848.0 317.9,1849.2 320.2,1852.1C322.4,1855.0 324.6,1859.3 326.8,1863.8C329.1,1868.2 331.6,1873.2 333.5,1878.8C335.5,1884.3 336.9,1890.7 338.5,1897.1C340.2,1903.5 342.1,1910.5 343.5,1917.2C344.9,1923.8 345.5,1930.8 346.9,1937.2C348.3,1943.6 350.2,1950.3 351.9,1955.6C353.5,1960.8 354.9,1965.2 356.9,1968.9C358.8,1972.6 361.1,1975.5 363.6,1977.9C366.1,1980.3 368.3,1981.5 371.9,1983.3C375.5,1985.0 380.8,1986.6 385.3,1988.3C389.7,1989.9 394.7,1992.2 398.6,1993.3C402.5,1994.3 405.3,1994.9 408.6,1994.6C412.0,1994.3 415.6,1993.1 418.6,1991.3C421.7,1989.5 424.2,1987.1 427.0,1983.9C429.8,1980.8 432.5,1976.7 435.3,1972.2C438.1,1967.8 440.9,1962.5 443.7,1957.2C446.5,1951.9 449.5,1945.3 452.0,1940.5C454.5,1935.8 455.9,1932.5 458.7,1928.9C461.5,1925.2 465.4,1922.2 468.7,1918.8C472.0,1915.5 475.4,1912.7 478.7,1908.8C482.1,1904.9 485.4,1900.5 488.7,1895.5C492.1,1890.5 495.4,1884.1 498.8,1878.8C502.1,1873.5 505.4,1868.5 508.8,1863.8C512.1,1859.0 514.9,1854.6 518.8,1850.4C522.7,1846.2 527.7,1842.2 532.1,1838.7C536.6,1835.3 541.0,1832.5 545.5,1829.7C549.9,1826.9 555.5,1823.7 558.8,1822.0C562.2,1820.4 563.7,1819.1 565.5,1819.7C567.3,1820.3 568.2,1822.9 569.5,1825.4C570.8,1827.8 572.1,1832.6 573.2,1834.4C574.3,1836.2 575.1,1836.5 576.2,1836.4C577.3,1836.3 578.4,1835.6 579.5,1833.7C580.6,1831.9 581.3,1827.9 582.9,1825.4C584.4,1822.9 586.8,1820.9 588.9,1818.7C591.0,1816.5 593.6,1814.1 595.6,1812.0C597.5,1810.0 598.9,1807.5 600.6,1806.3C602.2,1805.2 603.9,1805.8 605.6,1805.3C607.2,1804.9 609.0,1804.8 610.6,1803.7C612.1,1802.6 613.0,1800.9 614.9,1798.7C616.9,1796.5 618.8,1792.7 622.3,1790.5C625.7,1788.3 631.2,1786.7 635.6,1785.5C640.1,1784.3 644.5,1784.6 649.0,1783.2C653.4,1781.8 658.0,1778.7 662.3,1777.2C666.7,1775.6 667.3,1775.5 675.0,1773.8C682.7,1772.2 697.3,1768.8 708.4,1767.1C719.5,1765.5 730.6,1765.2 741.8,1763.8C752.9,1762.4 766.8,1760.0 775.1,1758.8C783.5,1757.6 783.5,1757.0 791.8,1756.5C800.2,1755.9 814.1,1755.5 825.2,1755.5C836.3,1755.5 850.2,1756.2 858.6,1756.5C866.9,1756.7 869.7,1757.5 875.3,1757.1C880.8,1756.8 886.4,1755.3 892.0,1754.5C897.5,1753.6 903.1,1752.9 908.7,1752.1C914.2,1751.3 919.8,1750.3 925.4,1749.8C930.9,1749.2 936.5,1749.0 942.0,1748.8C947.6,1748.6 954.0,1748.4 958.7,1748.8C963.5,1749.2 967.6,1750.0 970.4,1751.1C973.2,1752.2 973.8,1754.2 975.4,1755.5C977.1,1756.7 978.5,1758.2 980.4,1758.8C982.4,1759.4 984.6,1758.4 987.1,1758.8C989.6,1759.2 992.7,1759.5 995.5,1761.1C998.2,1762.8 1001.6,1765.9 1003.8,1768.8C1006.0,1771.8 1007.3,1775.2 1008.8,1778.8C1010.3,1782.4 1011.7,1786.4 1012.8,1790.5C1013.9,1794.7 1014.8,1800.4 1015.5,1803.7C1016.2,1807.0 1016.3,1805.9 1017.2,1810.4C1018.0,1814.8 1019.4,1823.7 1020.5,1830.4C1021.6,1837.1 1022.7,1844.3 1023.8,1850.4C1024.9,1856.5 1026.1,1863.1 1027.2,1867.1C1028.3,1871.1 1029.4,1874.2 1030.5,1874.4C1031.6,1874.7 1032.7,1872.8 1033.8,1868.8C1035.0,1864.8 1036.1,1857.4 1037.2,1850.4C1038.3,1843.5 1039.6,1833.7 1040.5,1827.0C1041.5,1820.4 1042.1,1814.8 1042.9,1810.4C1043.6,1805.9 1043.9,1803.9 1044.9,1800.3C1045.9,1796.8 1047.4,1791.1 1048.9,1788.8C1050.4,1786.5 1051.9,1786.8 1053.9,1786.5C1055.8,1786.2 1058.6,1786.2 1060.5,1787.2C1062.5,1788.1 1064.1,1790.3 1065.6,1792.2C1067.1,1794.1 1068.4,1796.2 1069.6,1798.7C1070.7,1801.1 1071.2,1803.7 1072.2,1807.0C1073.2,1810.4 1074.2,1815.6 1075.6,1818.7C1077.0,1821.8 1078.6,1823.5 1080.6,1825.4C1082.5,1827.2 1085.2,1826.7 1087.3,1829.7C1089.3,1832.8 1091.2,1838.1 1092.7,1843.7C1094.3,1849.4 1095.4,1856.0 1096.7,1863.8C1098.1,1871.6 1099.4,1880.5 1100.7,1890.5C1102.1,1900.5 1103.8,1913.3 1105.1,1923.8C1106.4,1934.4 1107.3,1943.9 1108.4,1953.9C1109.5,1963.9 1110.6,1973.9 1111.8,1983.9C1112.9,1993.9 1114.1,2004.5 1115.1,2014.0C1116.1,2023.4 1116.9,2034.4 1117.8,2040.7C1118.6,2046.9 1119.3,2051.4 1120.1,2051.4C1120.9,2051.4 1121.6,2046.9 1122.4,2040.7C1123.3,2034.4 1124.1,2024.5 1125.1,2014.0C1126.1,2003.4 1127.3,1990.1 1128.5,1977.3C1129.6,1964.5 1130.7,1951.1 1131.8,1937.2C1132.9,1923.3 1134.0,1908.3 1135.1,1893.8C1136.2,1879.3 1137.4,1863.2 1138.5,1850.4C1139.6,1837.6 1140.7,1825.1 1141.8,1817.0C1142.9,1809.0 1143.8,1805.9 1145.1,1802.0C1146.5,1798.1 1148.2,1795.6 1150.1,1793.7C1152.1,1791.8 1154.6,1790.7 1156.8,1790.7C1159.1,1790.6 1161.7,1792.0 1163.5,1793.3C1165.3,1794.7 1166.2,1796.4 1167.8,1798.7C1169.5,1801.0 1171.8,1803.4 1173.5,1807.0C1175.2,1810.6 1176.5,1814.8 1177.9,1820.4C1179.2,1825.9 1180.6,1833.2 1181.9,1840.4C1183.1,1847.6 1184.1,1856.3 1185.2,1863.8C1186.3,1871.3 1187.4,1881.7 1188.5,1885.5C1189.6,1889.2 1190.8,1889.0 1191.9,1886.5C1193.0,1884.0 1194.2,1874.2 1195.2,1870.4C1196.2,1866.7 1196.9,1864.6 1197.9,1863.8C1198.9,1862.9 1200.1,1862.6 1201.2,1865.4C1202.3,1868.2 1203.4,1874.1 1204.6,1880.5C1205.7,1886.8 1206.8,1896.0 1207.9,1903.8C1209.0,1911.6 1210.1,1919.4 1211.2,1927.2C1212.3,1935.0 1213.5,1942.8 1214.6,1950.6C1215.7,1958.3 1216.7,1968.6 1217.9,1973.9C1219.1,1979.2 1220.6,1978.9 1221.9,1982.3C1223.3,1985.6 1224.7,1989.2 1225.9,1993.9C1227.1,1998.7 1228.1,2005.4 1229.3,2010.6C1230.4,2015.9 1231.3,2021.1 1232.6,2025.7C1233.9,2030.2 1235.4,2035.8 1236.9,2038.0C1238.5,2040.2 1240.3,2039.1 1241.9,2039.0C1243.6,2038.9 1245.3,2037.3 1247.0,2037.3C1248.6,2037.3 1250.3,2038.9 1252.0,2039.0C1253.6,2039.1 1255.4,2040.5 1257.0,2038.0C1258.5,2035.5 1260.0,2031.9 1261.3,2024.0C1262.6,2016.1 1263.5,2003.4 1264.6,1990.6C1265.8,1977.8 1266.8,1961.7 1268.0,1947.2C1269.2,1932.7 1270.5,1917.7 1272.0,1903.8C1273.5,1889.9 1275.0,1876.0 1277.0,1863.8C1278.9,1851.5 1281.2,1839.8 1283.7,1830.4C1286.2,1820.9 1289.5,1812.3 1292.0,1807.0C1294.5,1801.7 1296.7,1799.8 1298.7,1798.7C1300.6,1797.6 1302.0,1799.5 1303.7,1800.3C1305.4,1801.2 1307.3,1803.8 1308.7,1803.7C1310.1,1803.6 1310.9,1801.3 1312.0,1799.7C1313.2,1798.1 1314.0,1794.3 1315.4,1794.0C1316.8,1793.7 1318.2,1796.4 1320.4,1798.0C1322.6,1799.6 1326.0,1801.9 1328.7,1803.7C1331.5,1805.5 1334.6,1806.5 1337.1,1808.7C1339.6,1810.9 1341.5,1812.9 1343.8,1817.0C1346.0,1821.2 1348.2,1827.9 1350.4,1833.7C1352.7,1839.6 1355.2,1848.2 1357.1,1852.1C1359.1,1856.0 1360.2,1856.0 1362.1,1857.1C1364.1,1858.2 1366.6,1857.6 1368.8,1858.8C1371.0,1859.9 1373.2,1861.3 1375.5,1863.8C1377.7,1866.3 1379.9,1868.8 1382.1,1873.8C1384.4,1878.8 1386.9,1885.5 1388.8,1893.8C1390.8,1902.1 1392.2,1912.2 1393.8,1923.8C1395.5,1935.5 1397.2,1952.2 1398.8,1963.9C1400.5,1975.6 1402.2,1985.0 1403.8,1993.9C1405.5,2002.8 1406.9,2010.4 1408.8,2017.3C1410.8,2024.3 1413.0,2029.8 1415.5,2035.7C1418.0,2041.5 1421.1,2047.1 1423.9,2052.4C1426.7,2057.6 1429.4,2063.5 1432.2,2067.4C1435.0,2071.3 1438.3,2073.9 1440.6,2075.7C1442.8,2077.5 1443.9,2078.3 1445.6,2078.1C1447.2,2077.8 1449.2,2077.0 1450.6,2074.1C1452.0,2071.2 1453.1,2065.4 1453.9,2060.7C1454.7,2056.0 1455.3,2048.2 1455.6,2045.7" stroke="#FF0000" stroke-width="6.2"/>
<path d="M223.4,1677.0C228.6,1676.7 244.8,1675.8 255.1,1675.3C265.4,1674.8 277.3,1674.2 285.1,1674.0C292.9,1673.8 297.1,1674.1 301.8,1674.3C306.5,1674.6 310.4,1674.8 313.5,1675.7C316.5,1676.6 317.9,1677.5 320.2,1679.7C322.4,1681.9 324.6,1685.3 326.8,1688.7C329.1,1692.1 331.6,1696.2 333.5,1700.4C335.5,1704.6 336.9,1709.0 338.5,1713.7C340.2,1718.5 341.9,1723.5 343.5,1728.8C345.2,1734.0 346.9,1740.2 348.5,1745.4C350.2,1750.7 351.6,1756.0 353.5,1760.5C355.5,1764.9 357.7,1768.9 360.2,1772.2C362.7,1775.4 364.9,1777.8 368.6,1779.8C372.2,1781.9 377.5,1783.0 381.9,1784.5C386.4,1786.0 391.1,1787.6 395.3,1788.8C399.4,1790.1 403.6,1791.7 407.0,1792.2C410.3,1792.6 412.5,1792.5 415.3,1791.5C418.1,1790.6 420.9,1788.9 423.6,1786.5C426.4,1784.1 429.2,1780.9 432.0,1777.2C434.8,1773.4 437.6,1768.5 440.3,1763.8C443.1,1759.1 445.9,1753.2 448.7,1748.8C451.5,1744.3 454.0,1740.7 457.0,1737.1C460.1,1733.5 463.7,1730.1 467.0,1727.1C470.4,1724.0 473.7,1721.8 477.1,1718.7C480.4,1715.7 483.7,1712.3 487.1,1708.7C490.4,1705.1 493.7,1700.7 497.1,1697.0C500.4,1693.4 503.8,1689.8 507.1,1687.0C510.4,1684.2 513.2,1682.6 517.1,1680.4C521.0,1678.1 526.0,1675.6 530.5,1673.7C534.9,1671.7 539.4,1670.2 543.8,1668.7C548.3,1667.2 553.5,1665.6 557.2,1664.7C560.8,1663.7 563.5,1662.6 565.5,1663.0C567.6,1663.4 568.2,1664.9 569.5,1667.0C570.8,1669.1 571.9,1673.2 573.2,1675.3C574.5,1677.5 576.0,1679.4 577.2,1679.7C578.4,1680.0 579.4,1678.6 580.5,1677.0C581.6,1675.5 582.5,1672.0 583.9,1670.3C585.3,1668.7 586.9,1668.4 588.9,1667.0C590.8,1665.6 593.6,1663.6 595.6,1662.0C597.5,1660.4 598.9,1658.3 600.6,1657.7C602.2,1657.0 603.9,1658.1 605.6,1658.0C607.2,1657.9 608.6,1658.0 610.6,1657.0C612.5,1656.0 614.7,1653.4 617.3,1652.0C619.8,1650.6 622.5,1649.6 625.6,1648.6C628.7,1647.6 631.7,1646.8 635.6,1646.0C639.5,1645.1 644.5,1644.9 649.0,1643.6C653.4,1642.4 658.0,1640.2 662.3,1638.6C666.7,1637.1 667.3,1635.7 675.0,1634.3C682.7,1632.9 697.3,1631.2 708.4,1630.3C719.5,1629.3 730.6,1629.2 741.8,1628.6C752.9,1628.1 766.8,1627.5 775.1,1626.9C783.5,1626.4 783.5,1625.6 791.8,1625.3C800.2,1625.0 814.1,1625.2 825.2,1625.3C836.3,1625.4 850.2,1625.7 858.6,1625.9C866.9,1626.2 869.7,1627.2 875.3,1626.9C880.8,1626.7 886.4,1625.2 892.0,1624.6C897.5,1624.1 903.1,1623.9 908.7,1623.6C914.2,1623.3 919.8,1622.8 925.4,1622.6C930.9,1622.4 936.5,1622.6 942.0,1622.6C947.6,1622.7 954.0,1622.7 958.7,1622.9C963.5,1623.2 967.6,1623.3 970.4,1624.3C973.2,1625.2 973.8,1627.4 975.4,1628.6C977.1,1629.8 978.5,1631.1 980.4,1631.3C982.4,1631.5 984.6,1629.7 987.1,1629.6C989.6,1629.6 992.7,1630.0 995.5,1631.0C998.2,1631.9 1001.3,1633.2 1003.8,1635.3C1006.3,1637.4 1008.5,1640.6 1010.5,1643.6C1012.4,1646.7 1013.8,1649.8 1015.5,1653.7C1017.2,1657.5 1018.9,1662.0 1020.5,1667.0C1022.0,1672.0 1023.4,1679.0 1024.8,1683.7C1026.2,1688.4 1027.6,1692.7 1028.8,1695.4C1030.1,1698.0 1030.9,1699.5 1032.2,1699.7C1033.4,1699.9 1035.0,1699.0 1036.2,1696.4C1037.4,1693.7 1038.5,1688.3 1039.5,1683.7C1040.5,1679.1 1041.2,1672.6 1042.2,1668.7C1043.2,1664.8 1044.1,1662.3 1045.5,1660.3C1046.9,1658.4 1048.3,1657.5 1050.5,1657.0C1052.8,1656.4 1056.4,1656.4 1058.9,1657.0C1061.4,1657.5 1063.6,1658.7 1065.6,1660.3C1067.5,1662.0 1069.0,1664.2 1070.6,1667.0C1072.1,1669.8 1073.4,1673.8 1074.9,1677.0C1076.4,1680.2 1077.9,1684.4 1079.6,1686.4C1081.2,1688.3 1083.1,1688.0 1084.9,1688.7C1086.8,1689.4 1089.0,1688.1 1090.6,1690.4C1092.2,1692.6 1093.1,1696.5 1094.4,1702.1C1095.7,1707.6 1097.1,1716.2 1098.4,1723.8C1099.7,1731.3 1101.2,1738.8 1102.4,1747.1C1103.6,1755.5 1104.9,1766.3 1105.8,1773.8C1106.6,1781.3 1107.2,1786.6 1107.8,1792.2C1108.3,1797.7 1108.5,1801.8 1109.1,1807.0C1109.6,1812.3 1110.4,1817.0 1111.1,1823.7C1111.8,1830.4 1112.5,1835.9 1113.4,1847.1C1114.4,1858.2 1115.7,1876.6 1116.8,1890.5C1117.9,1904.4 1119.3,1920.8 1120.1,1930.5C1120.9,1940.3 1121.1,1948.9 1121.8,1948.9C1122.4,1948.9 1123.3,1940.3 1124.1,1930.5C1124.9,1920.8 1125.9,1904.4 1126.8,1890.5C1127.7,1876.6 1128.7,1858.8 1129.5,1847.1C1130.2,1835.4 1130.5,1834.2 1131.1,1820.4C1131.8,1806.5 1132.5,1779.9 1133.5,1763.8C1134.4,1747.7 1135.7,1735.4 1136.8,1723.8C1137.9,1712.1 1138.7,1701.5 1140.1,1693.7C1141.5,1685.9 1143.2,1681.2 1145.1,1677.0C1147.1,1672.8 1149.3,1670.9 1151.8,1668.7C1154.3,1666.4 1157.4,1664.2 1160.2,1663.7C1162.9,1663.1 1166.0,1664.2 1168.5,1665.3C1171.0,1666.4 1173.2,1667.8 1175.2,1670.3C1177.1,1672.8 1178.8,1675.9 1180.2,1680.4C1181.6,1684.8 1182.4,1692.0 1183.5,1697.0C1184.6,1702.1 1185.6,1706.8 1186.9,1710.4C1188.1,1714.0 1189.6,1718.2 1190.9,1718.7C1192.1,1719.3 1193.1,1716.8 1194.2,1713.7C1195.3,1710.7 1196.4,1703.4 1197.5,1700.4C1198.7,1697.3 1199.8,1695.9 1200.9,1695.4C1202.0,1694.8 1203.1,1695.1 1204.2,1697.0C1205.3,1699.0 1206.5,1701.5 1207.6,1707.1C1208.7,1712.6 1209.8,1722.1 1210.9,1730.4C1212.0,1738.8 1213.1,1748.8 1214.2,1757.1C1215.4,1765.5 1216.5,1773.3 1217.6,1780.5C1218.7,1787.7 1219.4,1794.8 1220.9,1800.3C1222.5,1805.9 1225.1,1808.7 1226.9,1813.7C1228.8,1818.7 1230.3,1824.3 1231.9,1830.4C1233.6,1836.5 1235.3,1844.8 1236.9,1850.4C1238.6,1856.0 1240.0,1860.7 1241.9,1863.8C1243.9,1866.8 1246.4,1868.2 1248.6,1868.8C1250.8,1869.3 1253.4,1869.0 1255.3,1867.1C1257.2,1865.2 1258.9,1862.1 1260.3,1857.1C1261.7,1852.1 1262.5,1844.3 1263.6,1837.1C1264.8,1829.8 1265.4,1823.1 1267.0,1813.7C1268.5,1804.3 1271.9,1788.8 1273.0,1780.5C1274.1,1772.2 1273.2,1772.2 1273.7,1763.8C1274.2,1755.5 1274.9,1741.6 1276.0,1730.4C1277.1,1719.3 1278.7,1706.5 1280.3,1697.0C1282.0,1687.6 1284.0,1680.4 1286.0,1673.7C1288.1,1667.0 1290.6,1661.2 1292.7,1657.0C1294.8,1652.8 1297.0,1649.5 1298.7,1648.6C1300.4,1647.8 1301.3,1650.7 1302.7,1652.0C1304.1,1653.3 1305.6,1656.0 1307.0,1656.3C1308.5,1656.6 1310.1,1655.8 1311.4,1653.7C1312.7,1651.5 1313.6,1646.0 1314.7,1643.6C1315.8,1641.3 1316.8,1639.6 1318.1,1639.6C1319.3,1639.6 1320.3,1642.7 1322.1,1643.6C1323.8,1644.6 1326.2,1644.7 1328.7,1645.3C1331.2,1645.9 1334.6,1646.0 1337.1,1647.0C1339.6,1647.9 1341.5,1649.0 1343.8,1651.0C1346.0,1652.9 1348.2,1655.2 1350.4,1658.7C1352.7,1662.2 1355.2,1669.0 1357.1,1672.0C1359.1,1675.1 1360.2,1676.1 1362.1,1677.0C1364.1,1678.0 1366.6,1677.1 1368.8,1677.7C1371.0,1678.2 1373.2,1678.5 1375.5,1680.4C1377.7,1682.2 1379.9,1684.8 1382.1,1688.7C1384.4,1692.6 1386.9,1696.8 1388.8,1703.7C1390.8,1710.7 1392.2,1720.4 1393.8,1730.4C1395.5,1740.4 1397.6,1754.3 1398.8,1763.8C1400.1,1773.3 1400.5,1780.0 1401.5,1787.2C1402.5,1794.4 1403.9,1802.0 1404.8,1807.0C1405.8,1812.0 1406.0,1811.5 1407.2,1817.0C1408.4,1822.6 1410.2,1832.0 1412.2,1840.4C1414.1,1848.7 1416.4,1857.6 1418.9,1867.1C1421.4,1876.6 1424.4,1887.1 1427.2,1897.1C1430.0,1907.2 1433.2,1919.1 1435.6,1927.2C1437.9,1935.3 1440.0,1941.5 1441.6,1945.5C1443.1,1949.5 1443.7,1951.5 1444.9,1951.2C1446.1,1950.9 1447.7,1948.4 1448.9,1943.9C1450.1,1939.3 1451.2,1932.7 1452.2,1923.8C1453.2,1914.9 1454.1,1902.7 1454.9,1890.5C1455.7,1878.2 1456.9,1857.1 1457.3,1850.4" stroke="#00FFFF" stroke-width="6.5"/>
<path d="M223.4,1514.1C228.6,1513.8 244.8,1513.0 255.1,1512.5C265.4,1511.9 277.3,1511.3 285.1,1511.1C292.9,1510.9 297.1,1510.9 301.8,1511.1C306.5,1511.3 310.4,1511.5 313.5,1512.5C316.5,1513.4 317.9,1514.7 320.2,1516.8C322.4,1518.9 324.6,1521.8 326.8,1525.1C329.1,1528.5 331.6,1532.6 333.5,1536.8C335.5,1541.0 336.9,1545.7 338.5,1550.2C340.2,1554.6 342.1,1558.5 343.5,1563.5C344.9,1568.5 345.5,1574.6 346.9,1580.2C348.3,1585.8 350.2,1591.9 351.9,1596.9C353.5,1601.9 354.9,1606.6 356.9,1610.3C358.8,1613.9 361.1,1616.3 363.6,1618.6C366.1,1620.9 368.3,1622.6 371.9,1624.3C375.5,1625.9 380.8,1627.2 385.3,1628.6C389.7,1630.1 394.7,1632.0 398.6,1633.0C402.5,1634.0 405.3,1634.8 408.6,1634.6C412.0,1634.5 415.6,1633.5 418.6,1632.0C421.7,1630.4 424.2,1628.1 427.0,1625.3C429.8,1622.5 432.5,1619.4 435.3,1615.3C438.1,1611.1 440.9,1605.2 443.7,1600.2C446.5,1595.2 449.5,1589.4 452.0,1585.2C454.5,1581.0 455.9,1578.3 458.7,1575.2C461.5,1572.1 465.4,1569.6 468.7,1566.9C472.0,1564.1 475.4,1561.6 478.7,1558.5C482.1,1555.5 485.4,1552.1 488.7,1548.5C492.1,1544.9 495.4,1540.4 498.8,1536.8C502.1,1533.2 505.4,1529.7 508.8,1526.8C512.1,1523.9 514.9,1522.0 518.8,1519.5C522.7,1517.0 527.7,1514.0 532.1,1511.8C536.6,1509.6 541.0,1507.8 545.5,1506.1C549.9,1504.4 555.5,1502.8 558.8,1501.8C562.2,1500.8 563.7,1499.5 565.5,1500.1C567.3,1500.7 568.2,1502.9 569.5,1505.1C570.8,1507.3 571.9,1511.5 573.2,1513.5C574.5,1515.4 576.0,1516.5 577.2,1516.8C578.4,1517.1 579.4,1516.5 580.5,1515.1C581.6,1513.7 582.5,1510.3 583.9,1508.4C585.3,1506.6 586.9,1505.8 588.9,1504.1C590.8,1502.4 593.6,1500.2 595.6,1498.4C597.5,1496.7 598.9,1494.4 600.6,1493.4C602.2,1492.4 603.9,1492.5 605.6,1492.4C607.2,1492.3 608.6,1493.7 610.6,1492.8C612.5,1491.8 614.7,1488.3 617.3,1486.7C619.8,1485.2 622.5,1484.4 625.6,1483.4C628.7,1482.4 632.3,1481.3 635.6,1480.7C638.9,1480.2 642.3,1480.8 645.6,1480.1C649.0,1479.3 652.3,1477.3 655.6,1476.1C659.0,1474.8 662.4,1473.5 665.7,1472.7C668.9,1472.0 667.9,1472.6 675.0,1471.7C682.1,1470.8 697.3,1468.5 708.4,1467.4C719.5,1466.3 730.6,1465.8 741.8,1465.0C752.9,1464.3 766.8,1463.3 775.1,1462.7C783.5,1462.2 783.5,1461.9 791.8,1461.7C800.2,1461.5 814.1,1461.6 825.2,1461.7C836.3,1461.8 850.2,1462.2 858.6,1462.4C866.9,1462.5 869.7,1463.1 875.3,1462.7C880.8,1462.3 886.4,1460.7 892.0,1460.0C897.5,1459.4 903.1,1459.3 908.7,1459.0C914.2,1458.8 919.8,1458.5 925.4,1458.4C930.9,1458.3 936.5,1458.3 942.0,1458.4C947.6,1458.5 954.0,1458.7 958.7,1459.0C963.5,1459.4 967.6,1459.9 970.4,1460.7C973.2,1461.5 973.8,1463.0 975.4,1464.0C977.1,1465.0 978.5,1466.6 980.4,1466.7C982.4,1466.9 984.6,1465.2 987.1,1465.0C989.6,1464.9 992.7,1465.2 995.5,1466.1C998.2,1466.9 1001.3,1468.0 1003.8,1470.1C1006.3,1472.1 1008.5,1475.3 1010.5,1478.4C1012.4,1481.5 1013.8,1484.2 1015.5,1488.4C1017.2,1492.6 1018.9,1498.2 1020.5,1503.4C1022.0,1508.7 1023.4,1515.1 1024.8,1520.1C1026.2,1525.1 1027.6,1530.4 1028.8,1533.5C1030.1,1536.5 1030.9,1538.2 1032.2,1538.5C1033.4,1538.8 1035.0,1537.9 1036.2,1535.1C1037.4,1532.4 1038.5,1526.5 1039.5,1521.8C1040.5,1517.1 1041.2,1510.9 1042.2,1506.8C1043.2,1502.6 1044.1,1499.1 1045.5,1496.8C1046.9,1494.4 1048.3,1493.4 1050.5,1492.8C1052.8,1492.1 1056.4,1492.3 1058.9,1492.8C1061.4,1493.3 1063.6,1494.1 1065.6,1495.8C1067.5,1497.4 1069.0,1499.8 1070.6,1502.8C1072.1,1505.7 1073.4,1510.0 1074.9,1513.5C1076.4,1516.9 1077.9,1521.1 1079.6,1523.5C1081.2,1525.8 1083.1,1526.6 1084.9,1527.5C1086.8,1528.3 1089.0,1526.4 1090.6,1528.5C1092.2,1530.6 1093.1,1534.3 1094.4,1540.2C1095.7,1546.0 1097.1,1555.2 1098.4,1563.5C1099.7,1571.9 1101.0,1579.1 1102.4,1590.2C1103.8,1601.4 1105.4,1618.6 1106.8,1630.3C1108.1,1642.0 1109.5,1649.2 1110.8,1660.3C1112.0,1671.5 1113.1,1685.4 1114.1,1697.0C1115.1,1708.7 1115.9,1719.3 1116.8,1730.4C1117.6,1741.6 1118.4,1752.7 1119.1,1763.8C1119.8,1774.9 1120.2,1796.9 1120.8,1796.9C1121.3,1796.9 1121.7,1774.9 1122.4,1763.8C1123.2,1752.7 1124.1,1744.3 1125.1,1730.4C1126.1,1716.5 1127.2,1699.3 1128.5,1680.4C1129.7,1661.4 1131.2,1635.3 1132.5,1616.9C1133.7,1598.6 1134.6,1584.1 1135.8,1570.2C1137.0,1556.3 1138.2,1542.7 1139.5,1533.5C1140.7,1524.3 1141.7,1519.8 1143.5,1515.1C1145.3,1510.4 1147.6,1507.5 1150.1,1505.1C1152.7,1502.7 1155.7,1501.3 1158.5,1500.8C1161.3,1500.2 1164.1,1500.7 1166.8,1501.8C1169.6,1502.9 1173.0,1504.9 1175.2,1507.4C1177.4,1509.9 1178.8,1513.0 1180.2,1516.8C1181.6,1520.6 1182.4,1525.1 1183.5,1530.1C1184.6,1535.1 1185.8,1542.1 1186.9,1546.8C1188.0,1551.6 1189.1,1557.1 1190.2,1558.5C1191.3,1559.9 1192.4,1558.2 1193.5,1555.2C1194.7,1552.1 1195.9,1543.9 1196.9,1540.2C1197.8,1536.4 1198.3,1534.2 1199.2,1532.8C1200.2,1531.4 1201.4,1530.9 1202.6,1531.8C1203.7,1532.8 1204.9,1533.8 1205.9,1538.5C1206.9,1543.2 1207.6,1553.2 1208.6,1560.2C1209.6,1567.1 1210.8,1573.0 1211.9,1580.2C1213.0,1587.4 1214.1,1595.8 1215.2,1603.6C1216.4,1611.4 1217.2,1621.1 1218.6,1626.9C1220.0,1632.8 1222.0,1634.5 1223.6,1638.6C1225.1,1642.8 1226.6,1646.7 1227.9,1652.0C1229.2,1657.3 1230.2,1663.9 1231.3,1670.3C1232.4,1676.7 1233.5,1684.2 1234.6,1690.4C1235.7,1696.5 1236.7,1703.1 1237.9,1707.1C1239.2,1711.1 1240.4,1713.6 1241.9,1714.4C1243.4,1715.2 1245.3,1712.2 1247.0,1712.1C1248.6,1712.0 1250.3,1713.6 1252.0,1713.7C1253.6,1713.9 1255.4,1715.3 1257.0,1713.1C1258.5,1710.8 1260.0,1707.5 1261.3,1700.4C1262.6,1693.3 1263.5,1682.0 1264.6,1670.3C1265.8,1658.7 1266.9,1643.6 1268.0,1630.3C1269.1,1616.9 1270.1,1603.0 1271.3,1590.2C1272.5,1577.4 1273.8,1564.1 1275.3,1553.5C1276.8,1542.9 1278.4,1535.1 1280.3,1526.8C1282.3,1518.5 1284.8,1509.8 1287.0,1503.4C1289.2,1497.0 1291.7,1491.8 1293.7,1488.4C1295.6,1485.1 1297.2,1483.7 1298.7,1483.4C1300.2,1483.1 1301.3,1485.4 1302.7,1486.7C1304.1,1488.1 1305.6,1491.3 1307.0,1491.8C1308.5,1492.2 1310.1,1491.4 1311.4,1489.4C1312.7,1487.5 1313.6,1482.3 1314.7,1480.1C1315.8,1477.8 1316.8,1476.1 1318.1,1476.1C1319.3,1476.1 1320.3,1479.0 1322.1,1480.1C1323.8,1481.2 1326.2,1482.1 1328.7,1482.7C1331.2,1483.4 1334.6,1483.1 1337.1,1484.1C1339.6,1485.0 1341.5,1486.3 1343.8,1488.4C1346.0,1490.5 1348.2,1493.1 1350.4,1496.8C1352.7,1500.4 1355.2,1507.1 1357.1,1510.1C1359.1,1513.2 1360.2,1514.1 1362.1,1515.1C1364.1,1516.1 1366.6,1515.4 1368.8,1516.1C1371.0,1516.8 1373.2,1517.7 1375.5,1519.5C1377.7,1521.2 1379.9,1523.4 1382.1,1526.8C1384.4,1530.3 1386.9,1534.0 1388.8,1540.2C1390.8,1546.3 1392.4,1555.2 1393.8,1563.5C1395.2,1571.9 1396.1,1581.3 1397.2,1590.2C1398.3,1599.1 1399.4,1608.0 1400.5,1616.9C1401.6,1625.8 1402.5,1633.6 1403.8,1643.6C1405.2,1653.7 1406.9,1666.4 1408.8,1677.0C1410.8,1687.6 1413.0,1697.0 1415.5,1707.1C1418.0,1717.1 1421.4,1727.6 1423.9,1737.1C1426.4,1746.6 1428.3,1756.0 1430.5,1763.8C1432.8,1771.6 1435.0,1778.4 1437.2,1783.8C1439.4,1789.3 1442.0,1795.4 1443.9,1796.5C1445.8,1797.6 1447.4,1796.0 1448.9,1790.5C1450.4,1785.1 1451.8,1773.8 1452.9,1763.8C1454.0,1753.8 1454.7,1742.1 1455.6,1730.4C1456.4,1718.7 1457.5,1699.8 1457.9,1693.7" stroke="#808000" stroke-width="6.5"/>
</g>
<rect x="220.3" y="1444.7" width="1237.2" height="1101.8" fill="none" stroke="#000" stroke-width="4.6"/>
<text id="b_yt" transform="translate(97.5,2211.3) rotate(-90)" font-size="65" textLength="502" lengthAdjust="spacing">Transmission (%)</text>
<text id="v_b2968" transform="translate(602.4,1949.6) rotate(-90) scale(0.975,1)" font-size="44.5">2968</text>
<text id="v_b2856" transform="translate(643.4,1915.1) rotate(-90) scale(0.975,1)" font-size="44.5">2856</text>
<text id="v_b833" transform="translate(1335.5,1887.1) rotate(-90) scale(0.975,1)" font-size="44.5">833</text>
<text id="v_b683" transform="translate(1379.1,1941.8) rotate(-90) scale(0.975,1)" font-size="44.5">683</text>
<text id="v_b786" transform="translate(1351.1,2126.8) rotate(-90) scale(0.975,1)" font-size="44.5">786</text>
<text id="v_b440" transform="translate(1456.4,2167.6) rotate(-90) scale(0.975,1)" font-size="44.5">440</text>
<text id="v_b1186" transform="translate(1202.2,2232.8) rotate(-90) scale(0.975,1)" font-size="44.5">1186</text>
<text id="v_b3740" transform="translate(328.6,2474.1) rotate(-90) scale(0.975,1)" font-size="44.5">3740</text>
<text id="v_b3440" transform="translate(424.7,2522.4) rotate(-90) scale(0.975,1)" font-size="44.5">3440</text>
<text id="v_b1640" transform="translate(1054.5,2456.2) rotate(-90) scale(0.975,1)" font-size="44.5">1640</text>
<text id="v_b1390" transform="translate(1146.7,2452.6) rotate(-90) scale(0.975,1)" font-size="44.5">1390</text>
<text id="v_b1026" transform="translate(1263.4,2409.8) rotate(-90) scale(0.975,1)" font-size="44.5">1026</text>
<text id="b_b" transform="translate(40.0,1538.4)" font-size="172" font-weight="normal">b</text>
<text id="b_20" transform="translate(227.8,1504.6) scale(0.965,1)" font-size="53.5">20%</text>
<text id="b_10" transform="translate(226.8,1663.1) scale(0.987,1)" font-size="49.8">10%</text>
<text id="b_5" transform="translate(229.8,1834.6)" font-size="50">5%</text>
<text id="b_2.5" transform="translate(227.8,1980.8) scale(0.97,1)" font-size="50">2.5%</text>
<text id="b_1" transform="translate(226.8,2157.2) scale(0.975,1)" font-size="56.5">1%</text>
<text id="b_PAL" transform="translate(231.4,2312.2) scale(1.005,1)" font-size="54.5">PAL</text>
<text id="b_t400" transform="translate(1420.0,2611.4) scale(0.955,1)" font-size="52.3">400</text>
<text id="b_t800" transform="translate(1282.1,2611.4) scale(0.955,1)" font-size="52.3">800</text>
<text id="b_t1200" transform="translate(1130.7,2611.4) scale(0.955,1)" font-size="52.3">1200</text>
<text id="b_t1600" transform="translate(993.3,2611.4) scale(0.955,1)" font-size="52.3">1600</text>
<text id="b_t2000" transform="translate(856.9,2611.4) scale(0.955,1)" font-size="52.3">2000</text>
<text id="b_t2400" transform="translate(719.5,2611.4) scale(0.955,1)" font-size="52.3">2400</text>
<text id="b_t2800" transform="translate(582.1,2611.4) scale(0.955,1)" font-size="52.3">2800</text>
<text id="b_t3200" transform="translate(444.7,2611.4) scale(0.955,1)" font-size="52.3">3200</text>
<text id="b_t3600" transform="translate(307.3,2611.4) scale(0.955,1)" font-size="52.3">3600</text>
<text id="b_t4000" transform="translate(170.4,2611.4) scale(0.955,1)" font-size="52.3">4000</text>
<text id="b_xt_W" transform="translate(558.1,2729.4) scale(1.017,1)" font-size="63.5">Wavenumber</text>
<text id="b_xt_lp" transform="translate(951.7,2730.8) scale(1.05,1)" font-size="48.7" font-weight="normal">(</text>
<text id="b_xt_cm" transform="translate(969.1,2731.2)" font-size="63.5">cm</text>
<text id="b_xt_m1" transform="translate(1051.1,2713.6)" font-size="66">-1</text>
<text id="b_xt_rp" transform="translate(1104.1,2730.8) scale(1.05,1)" font-size="48.7" font-weight="normal">)</text>
</svg>
</body></html>
